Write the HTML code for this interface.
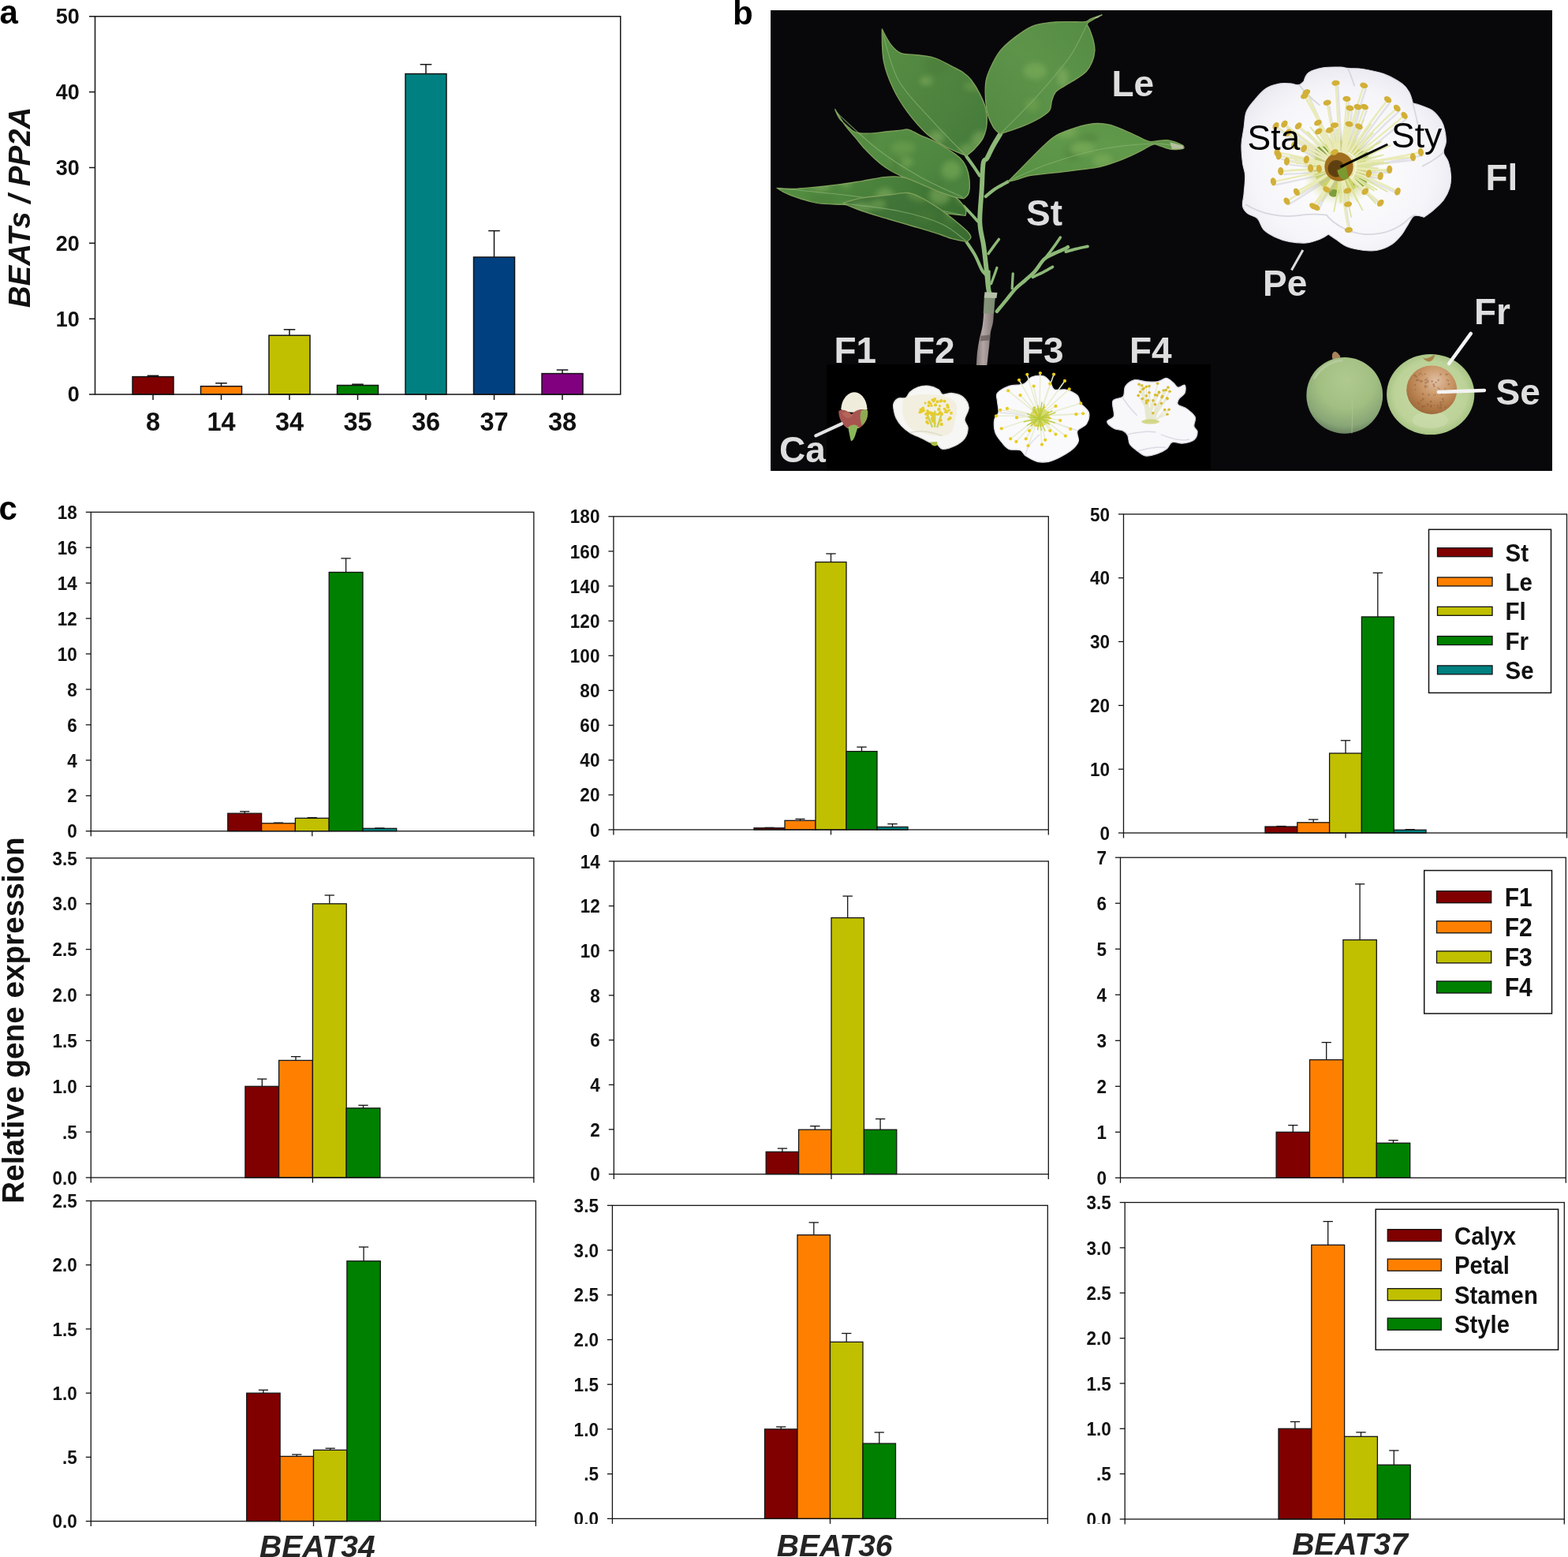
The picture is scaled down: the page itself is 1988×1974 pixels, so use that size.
<!DOCTYPE html><html><head><meta charset="utf-8"><title>Figure</title><style>html,body{margin:0;padding:0;background:#fff}svg{display:block}</style></head><body><svg width="1988" height="1974" viewBox="0 0 1988 1974"><rect width="1988" height="1974" fill="#fff"/><text x="-0.5" y="30" font-family="'Liberation Sans', Arial, Helvetica, sans-serif" font-weight="bold" font-size="42">a</text>
<g stroke="#141414" stroke-width="1.5"><line x1="194.0" y1="477.6" x2="194.0" y2="476.3"/><line x1="186.7" y1="476.3" x2="201.3" y2="476.3"/><rect x="168.0" y="477.6" width="52" height="22.4" fill="#800000"/><line x1="194.0" y1="500.0" x2="194.0" y2="507.0"/><line x1="280.5" y1="489.7" x2="280.5" y2="485.8"/><line x1="273.2" y1="485.8" x2="287.8" y2="485.8"/><rect x="254.5" y="489.7" width="52" height="10.3" fill="#ff8000"/><line x1="280.5" y1="500.0" x2="280.5" y2="507.0"/><line x1="367.0" y1="425.2" x2="367.0" y2="417.8"/><line x1="359.7" y1="417.8" x2="374.3" y2="417.8"/><rect x="341.0" y="425.2" width="52" height="74.8" fill="#c0c000"/><line x1="367.0" y1="500.0" x2="367.0" y2="507.0"/><line x1="453.5" y1="488.5" x2="453.5" y2="487.2"/><line x1="446.2" y1="487.2" x2="460.8" y2="487.2"/><rect x="427.5" y="488.5" width="52" height="11.5" fill="#008000"/><line x1="453.5" y1="500.0" x2="453.5" y2="507.0"/><line x1="540.0" y1="93.6" x2="540.0" y2="81.7"/><line x1="532.7" y1="81.7" x2="547.3" y2="81.7"/><rect x="514.0" y="93.6" width="52" height="406.4" fill="#008080"/><line x1="540.0" y1="500.0" x2="540.0" y2="507.0"/><line x1="626.5" y1="326.0" x2="626.5" y2="292.6"/><line x1="619.2" y1="292.6" x2="633.8" y2="292.6"/><rect x="600.5" y="326.0" width="52" height="174.0" fill="#004080"/><line x1="626.5" y1="500.0" x2="626.5" y2="507.0"/><line x1="713.0" y1="473.6" x2="713.0" y2="469.0"/><line x1="705.7" y1="469.0" x2="720.3" y2="469.0"/><rect x="687.0" y="473.6" width="52" height="26.4" fill="#800080"/><line x1="713.0" y1="500.0" x2="713.0" y2="507.0"/><rect x="120.5" y="20.8" width="666.2" height="479.2" fill="none"/><line x1="113.0" y1="500.0" x2="120.5" y2="500.0"/><line x1="113.0" y1="404.2" x2="120.5" y2="404.2"/><line x1="113.0" y1="308.3" x2="120.5" y2="308.3"/><line x1="113.0" y1="212.5" x2="120.5" y2="212.5"/><line x1="113.0" y1="116.6" x2="120.5" y2="116.6"/><line x1="113.0" y1="20.8" x2="120.5" y2="20.8"/></g>
<g font-family="'Liberation Sans', Arial, Helvetica, sans-serif" font-weight="bold" font-size="27" text-anchor="end" fill="#111"><text transform="translate(100.8 509.4) scale(1 1.05)">0</text><text transform="translate(100.8 413.6) scale(1 1.05)">10</text><text transform="translate(100.8 317.7) scale(1 1.05)">20</text><text transform="translate(100.8 221.9) scale(1 1.05)">30</text><text transform="translate(100.8 126.0) scale(1 1.05)">40</text><text transform="translate(100.8 30.2) scale(1 1.05)">50</text></g>
<g font-family="'Liberation Sans', Arial, Helvetica, sans-serif" font-weight="bold" font-size="32.5" text-anchor="middle" fill="#111"><text x="194.0" y="545.5">8</text><text x="280.5" y="545.5">14</text><text x="367.0" y="545.5">34</text><text x="453.5" y="545.5">35</text><text x="540.0" y="545.5">36</text><text x="626.5" y="545.5">37</text><text x="713.0" y="545.5">38</text></g>
<text transform="translate(38.2,263) rotate(-90)" text-anchor="middle" font-family="'Liberation Sans', Arial, Helvetica, sans-serif" font-weight="bold" font-style="italic" font-size="38.5" fill="#111">BEATs / PP2A</text>
<text x="-1.5" y="658.7" font-family="'Liberation Sans', Arial, Helvetica, sans-serif" font-weight="bold" font-size="42">c</text>
<g stroke="#141414" stroke-width="1.3"><line x1="310.2" y1="1031.2" x2="310.2" y2="1028.8"/><line x1="304.1" y1="1028.8" x2="316.3" y2="1028.8"/><rect x="288.8" y="1031.2" width="42.8" height="22.5" fill="#800000"/><line x1="353.0" y1="1043.8" x2="353.0" y2="1043.1"/><line x1="346.9" y1="1043.1" x2="359.1" y2="1043.1"/><rect x="331.6" y="1043.8" width="42.8" height="9.9" fill="#ff8000"/><line x1="395.8" y1="1037.3" x2="395.8" y2="1036.6"/><line x1="389.6" y1="1036.6" x2="401.9" y2="1036.6"/><rect x="374.4" y="1037.3" width="42.8" height="16.4" fill="#c0c000"/><line x1="438.6" y1="725.5" x2="438.6" y2="707.9"/><line x1="432.4" y1="707.9" x2="444.7" y2="707.9"/><rect x="417.2" y="725.5" width="42.8" height="328.2" fill="#008000"/><line x1="481.4" y1="1050.3" x2="481.4" y2="1049.9"/><line x1="475.2" y1="1049.9" x2="487.5" y2="1049.9"/><rect x="460.0" y="1050.3" width="42.8" height="3.4" fill="#008080"/><rect x="115.3" y="649.3" width="561.5" height="404.4" fill="none"/><line x1="108.8" y1="1053.7" x2="115.3" y2="1053.7"/><line x1="108.8" y1="1008.8" x2="115.3" y2="1008.8"/><line x1="108.8" y1="963.8" x2="115.3" y2="963.8"/><line x1="108.8" y1="918.9" x2="115.3" y2="918.9"/><line x1="108.8" y1="874.0" x2="115.3" y2="874.0"/><line x1="108.8" y1="829.0" x2="115.3" y2="829.0"/><line x1="108.8" y1="784.1" x2="115.3" y2="784.1"/><line x1="108.8" y1="739.2" x2="115.3" y2="739.2"/><line x1="108.8" y1="694.2" x2="115.3" y2="694.2"/><line x1="108.8" y1="649.3" x2="115.3" y2="649.3"/><line x1="115.3" y1="1053.7" x2="115.3" y2="1060.2"/><line x1="395.8" y1="1053.7" x2="395.8" y2="1060.2"/><line x1="676.8" y1="1053.7" x2="676.8" y2="1060.2"/></g>
<g font-family="'Liberation Sans', Arial, Helvetica, sans-serif" font-weight="bold" font-size="22.5" text-anchor="end" fill="#111"><text transform="translate(97.8 1062.3) scale(1 1.07)">0</text><text transform="translate(97.8 1017.4) scale(1 1.07)">2</text><text transform="translate(97.8 972.5) scale(1 1.07)">4</text><text transform="translate(97.8 927.5) scale(1 1.07)">6</text><text transform="translate(97.8 882.6) scale(1 1.07)">8</text><text transform="translate(97.8 837.7) scale(1 1.07)">10</text><text transform="translate(97.8 792.7) scale(1 1.07)">12</text><text transform="translate(97.8 747.8) scale(1 1.07)">14</text><text transform="translate(97.8 702.9) scale(1 1.07)">16</text><text transform="translate(97.8 657.9) scale(1 1.07)">18</text></g>
<g stroke="#141414" stroke-width="1.3"><line x1="975.5" y1="1049.7" x2="975.5" y2="1049.3"/><line x1="969.4" y1="1049.3" x2="981.6" y2="1049.3"/><rect x="956.0" y="1049.7" width="39.0" height="2.2" fill="#800000"/><line x1="1014.5" y1="1040.3" x2="1014.5" y2="1038.4"/><line x1="1008.4" y1="1038.4" x2="1020.6" y2="1038.4"/><rect x="995.0" y="1040.3" width="39.0" height="11.6" fill="#ff8000"/><line x1="1053.5" y1="712.6" x2="1053.5" y2="702.0"/><line x1="1047.3" y1="702.0" x2="1059.7" y2="702.0"/><rect x="1034.0" y="712.6" width="39.0" height="339.3" fill="#c0c000"/><line x1="1092.5" y1="952.6" x2="1092.5" y2="947.1"/><line x1="1086.3" y1="947.1" x2="1098.7" y2="947.1"/><rect x="1073.0" y="952.6" width="39.0" height="99.3" fill="#008000"/><line x1="1131.5" y1="1048.4" x2="1131.5" y2="1044.6"/><line x1="1125.3" y1="1044.6" x2="1137.7" y2="1044.6"/><rect x="1112.0" y="1048.4" width="39.0" height="3.5" fill="#008080"/><rect x="777.9" y="654.8" width="551.4" height="397.1" fill="none"/><line x1="771.4" y1="1051.9" x2="777.9" y2="1051.9"/><line x1="771.4" y1="1007.8" x2="777.9" y2="1007.8"/><line x1="771.4" y1="963.7" x2="777.9" y2="963.7"/><line x1="771.4" y1="919.5" x2="777.9" y2="919.5"/><line x1="771.4" y1="875.4" x2="777.9" y2="875.4"/><line x1="771.4" y1="831.3" x2="777.9" y2="831.3"/><line x1="771.4" y1="787.2" x2="777.9" y2="787.2"/><line x1="771.4" y1="743.0" x2="777.9" y2="743.0"/><line x1="771.4" y1="698.9" x2="777.9" y2="698.9"/><line x1="771.4" y1="654.8" x2="777.9" y2="654.8"/><line x1="777.9" y1="1051.9" x2="777.9" y2="1058.4"/><line x1="1053.5" y1="1051.9" x2="1053.5" y2="1058.4"/><line x1="1329.3" y1="1051.9" x2="1329.3" y2="1058.4"/></g>
<g font-family="'Liberation Sans', Arial, Helvetica, sans-serif" font-weight="bold" font-size="22.5" text-anchor="end" fill="#111"><text transform="translate(760.4 1060.5) scale(1 1.07)">0</text><text transform="translate(760.4 1016.4) scale(1 1.07)">20</text><text transform="translate(760.4 972.3) scale(1 1.07)">40</text><text transform="translate(760.4 928.2) scale(1 1.07)">60</text><text transform="translate(760.4 884.0) scale(1 1.07)">80</text><text transform="translate(760.4 839.9) scale(1 1.07)">100</text><text transform="translate(760.4 795.8) scale(1 1.07)">120</text><text transform="translate(760.4 751.7) scale(1 1.07)">140</text><text transform="translate(760.4 707.5) scale(1 1.07)">160</text><text transform="translate(760.4 663.4) scale(1 1.07)">180</text></g>
<g stroke="#141414" stroke-width="1.3"><line x1="1624.4" y1="1048.0" x2="1624.4" y2="1047.5"/><line x1="1618.2" y1="1047.5" x2="1630.6" y2="1047.5"/><rect x="1604.0" y="1048.0" width="40.8" height="8.0" fill="#800000"/><line x1="1665.2" y1="1042.8" x2="1665.2" y2="1039.0"/><line x1="1659.0" y1="1039.0" x2="1671.4" y2="1039.0"/><rect x="1644.8" y="1042.8" width="40.8" height="13.2" fill="#ff8000"/><line x1="1706.0" y1="955.0" x2="1706.0" y2="938.8"/><line x1="1699.8" y1="938.8" x2="1712.2" y2="938.8"/><rect x="1685.6" y="955.0" width="40.8" height="101.0" fill="#c0c000"/><line x1="1746.8" y1="782.0" x2="1746.8" y2="726.3"/><line x1="1740.7" y1="726.3" x2="1753.0" y2="726.3"/><rect x="1726.4" y="782.0" width="40.8" height="274.0" fill="#008000"/><line x1="1787.6" y1="1052.2" x2="1787.6" y2="1051.6"/><line x1="1781.5" y1="1051.6" x2="1793.8" y2="1051.6"/><rect x="1767.2" y="1052.2" width="40.8" height="3.8" fill="#008080"/><rect x="1424.5" y="651.9" width="562.0" height="404.1" fill="none"/><line x1="1418.0" y1="1056.0" x2="1424.5" y2="1056.0"/><line x1="1418.0" y1="975.2" x2="1424.5" y2="975.2"/><line x1="1418.0" y1="894.4" x2="1424.5" y2="894.4"/><line x1="1418.0" y1="813.5" x2="1424.5" y2="813.5"/><line x1="1418.0" y1="732.7" x2="1424.5" y2="732.7"/><line x1="1418.0" y1="651.9" x2="1424.5" y2="651.9"/><line x1="1424.5" y1="1056.0" x2="1424.5" y2="1062.5"/><line x1="1706.0" y1="1056.0" x2="1706.0" y2="1062.5"/><line x1="1986.5" y1="1056.0" x2="1986.5" y2="1062.5"/></g>
<g font-family="'Liberation Sans', Arial, Helvetica, sans-serif" font-weight="bold" font-size="22.5" text-anchor="end" fill="#111"><text transform="translate(1407.0 1064.6) scale(1 1.07)">0</text><text transform="translate(1407.0 983.8) scale(1 1.07)">10</text><text transform="translate(1407.0 903.0) scale(1 1.07)">20</text><text transform="translate(1407.0 822.2) scale(1 1.07)">30</text><text transform="translate(1407.0 741.3) scale(1 1.07)">40</text><text transform="translate(1407.0 660.5) scale(1 1.07)">50</text></g>
<g stroke="#141414" stroke-width="1.3"><line x1="332.3" y1="1377.3" x2="332.3" y2="1368.0"/><line x1="326.1" y1="1368.0" x2="338.4" y2="1368.0"/><rect x="310.9" y="1377.3" width="42.8" height="115.7" fill="#800000"/><line x1="375.0" y1="1344.4" x2="375.0" y2="1339.6"/><line x1="368.9" y1="1339.6" x2="381.2" y2="1339.6"/><rect x="353.6" y="1344.4" width="42.8" height="148.6" fill="#ff8000"/><line x1="417.8" y1="1145.8" x2="417.8" y2="1135.0"/><line x1="411.6" y1="1135.0" x2="423.9" y2="1135.0"/><rect x="396.4" y="1145.8" width="42.8" height="347.2" fill="#c0c000"/><line x1="460.5" y1="1404.9" x2="460.5" y2="1401.3"/><line x1="454.4" y1="1401.3" x2="466.7" y2="1401.3"/><rect x="439.1" y="1404.9" width="42.8" height="88.1" fill="#008000"/><rect x="115.3" y="1087.9" width="561.5" height="405.1" fill="none"/><line x1="108.8" y1="1493.0" x2="115.3" y2="1493.0"/><line x1="108.8" y1="1435.1" x2="115.3" y2="1435.1"/><line x1="108.8" y1="1377.3" x2="115.3" y2="1377.3"/><line x1="108.8" y1="1319.4" x2="115.3" y2="1319.4"/><line x1="108.8" y1="1261.5" x2="115.3" y2="1261.5"/><line x1="108.8" y1="1203.6" x2="115.3" y2="1203.6"/><line x1="108.8" y1="1145.8" x2="115.3" y2="1145.8"/><line x1="108.8" y1="1087.9" x2="115.3" y2="1087.9"/><line x1="115.3" y1="1493.0" x2="115.3" y2="1499.5"/><line x1="396.4" y1="1493.0" x2="396.4" y2="1499.5"/><line x1="676.8" y1="1493.0" x2="676.8" y2="1499.5"/></g>
<g font-family="'Liberation Sans', Arial, Helvetica, sans-serif" font-weight="bold" font-size="22.5" text-anchor="end" fill="#111"><text transform="translate(97.8 1501.6) scale(1 1.07)">0.0</text><text transform="translate(97.8 1443.7) scale(1 1.07)">.5</text><text transform="translate(97.8 1385.9) scale(1 1.07)">1.0</text><text transform="translate(97.8 1328.0) scale(1 1.07)">1.5</text><text transform="translate(97.8 1270.1) scale(1 1.07)">2.0</text><text transform="translate(97.8 1212.3) scale(1 1.07)">2.5</text><text transform="translate(97.8 1154.4) scale(1 1.07)">3.0</text><text transform="translate(97.8 1096.5) scale(1 1.07)">3.5</text></g>
<g stroke="#141414" stroke-width="1.3"><line x1="991.9" y1="1460.3" x2="991.9" y2="1456.0"/><line x1="985.8" y1="1456.0" x2="998.1" y2="1456.0"/><rect x="971.2" y="1460.3" width="41.4" height="28.3" fill="#800000"/><line x1="1033.3" y1="1432.2" x2="1033.3" y2="1427.7"/><line x1="1027.1" y1="1427.7" x2="1039.5" y2="1427.7"/><rect x="1012.6" y="1432.2" width="41.4" height="56.4" fill="#ff8000"/><line x1="1074.7" y1="1163.6" x2="1074.7" y2="1136.1"/><line x1="1068.5" y1="1136.1" x2="1080.9" y2="1136.1"/><rect x="1054.0" y="1163.6" width="41.4" height="325.0" fill="#c0c000"/><line x1="1116.1" y1="1432.2" x2="1116.1" y2="1418.6"/><line x1="1110.0" y1="1418.6" x2="1122.3" y2="1418.6"/><rect x="1095.4" y="1432.2" width="41.4" height="56.4" fill="#008000"/><rect x="778.3" y="1091.9" width="551.0" height="396.7" fill="none"/><line x1="771.8" y1="1488.6" x2="778.3" y2="1488.6"/><line x1="771.8" y1="1431.9" x2="778.3" y2="1431.9"/><line x1="771.8" y1="1375.3" x2="778.3" y2="1375.3"/><line x1="771.8" y1="1318.6" x2="778.3" y2="1318.6"/><line x1="771.8" y1="1261.9" x2="778.3" y2="1261.9"/><line x1="771.8" y1="1205.2" x2="778.3" y2="1205.2"/><line x1="771.8" y1="1148.6" x2="778.3" y2="1148.6"/><line x1="771.8" y1="1091.9" x2="778.3" y2="1091.9"/><line x1="778.3" y1="1488.6" x2="778.3" y2="1495.1"/><line x1="1054.0" y1="1488.6" x2="1054.0" y2="1495.1"/><line x1="1329.3" y1="1488.6" x2="1329.3" y2="1495.1"/></g>
<g font-family="'Liberation Sans', Arial, Helvetica, sans-serif" font-weight="bold" font-size="22.5" text-anchor="end" fill="#111"><text transform="translate(760.8 1497.2) scale(1 1.07)">0</text><text transform="translate(760.8 1440.5) scale(1 1.07)">2</text><text transform="translate(760.8 1383.9) scale(1 1.07)">4</text><text transform="translate(760.8 1327.2) scale(1 1.07)">6</text><text transform="translate(760.8 1270.5) scale(1 1.07)">8</text><text transform="translate(760.8 1213.9) scale(1 1.07)">10</text><text transform="translate(760.8 1157.2) scale(1 1.07)">12</text><text transform="translate(760.8 1100.5) scale(1 1.07)">14</text></g>
<g stroke="#141414" stroke-width="1.3"><line x1="1639.3" y1="1435.3" x2="1639.3" y2="1426.6"/><line x1="1633.2" y1="1426.6" x2="1645.5" y2="1426.6"/><rect x="1618.1" y="1435.3" width="42.4" height="58.0" fill="#800000"/><line x1="1681.7" y1="1343.6" x2="1681.7" y2="1321.6"/><line x1="1675.6" y1="1321.6" x2="1687.9" y2="1321.6"/><rect x="1660.5" y="1343.6" width="42.4" height="149.7" fill="#ff8000"/><line x1="1724.1" y1="1191.6" x2="1724.1" y2="1120.8"/><line x1="1718.0" y1="1120.8" x2="1730.3" y2="1120.8"/><rect x="1702.9" y="1191.6" width="42.4" height="301.7" fill="#c0c000"/><line x1="1766.5" y1="1449.2" x2="1766.5" y2="1445.7"/><line x1="1760.4" y1="1445.7" x2="1772.7" y2="1445.7"/><rect x="1745.3" y="1449.2" width="42.4" height="44.1" fill="#008000"/><rect x="1420.5" y="1087.2" width="564.8" height="406.1" fill="none"/><line x1="1414.0" y1="1493.3" x2="1420.5" y2="1493.3"/><line x1="1414.0" y1="1435.3" x2="1420.5" y2="1435.3"/><line x1="1414.0" y1="1377.3" x2="1420.5" y2="1377.3"/><line x1="1414.0" y1="1319.3" x2="1420.5" y2="1319.3"/><line x1="1414.0" y1="1261.2" x2="1420.5" y2="1261.2"/><line x1="1414.0" y1="1203.2" x2="1420.5" y2="1203.2"/><line x1="1414.0" y1="1145.2" x2="1420.5" y2="1145.2"/><line x1="1414.0" y1="1087.2" x2="1420.5" y2="1087.2"/><line x1="1420.5" y1="1493.3" x2="1420.5" y2="1499.8"/><line x1="1702.9" y1="1493.3" x2="1702.9" y2="1499.8"/><line x1="1985.3" y1="1493.3" x2="1985.3" y2="1499.8"/></g>
<g font-family="'Liberation Sans', Arial, Helvetica, sans-serif" font-weight="bold" font-size="22.5" text-anchor="end" fill="#111"><text transform="translate(1403.0 1501.9) scale(1 1.07)">0</text><text transform="translate(1403.0 1443.9) scale(1 1.07)">1</text><text transform="translate(1403.0 1385.9) scale(1 1.07)">2</text><text transform="translate(1403.0 1327.9) scale(1 1.07)">3</text><text transform="translate(1403.0 1269.9) scale(1 1.07)">4</text><text transform="translate(1403.0 1211.8) scale(1 1.07)">5</text><text transform="translate(1403.0 1153.8) scale(1 1.07)">6</text><text transform="translate(1403.0 1095.8) scale(1 1.07)">7</text></g>
<g stroke="#141414" stroke-width="1.3"><line x1="333.9" y1="1766.2" x2="333.9" y2="1762.3"/><line x1="327.8" y1="1762.3" x2="340.0" y2="1762.3"/><rect x="312.7" y="1766.2" width="42.4" height="162.4" fill="#800000"/><line x1="376.3" y1="1846.4" x2="376.3" y2="1844.1"/><line x1="370.1" y1="1844.1" x2="382.4" y2="1844.1"/><rect x="355.1" y="1846.4" width="42.4" height="82.2" fill="#ff8000"/><line x1="418.7" y1="1838.4" x2="418.7" y2="1836.2"/><line x1="412.6" y1="1836.2" x2="424.8" y2="1836.2"/><rect x="397.5" y="1838.4" width="42.4" height="90.2" fill="#c0c000"/><line x1="461.1" y1="1598.8" x2="461.1" y2="1581.0"/><line x1="454.9" y1="1581.0" x2="467.2" y2="1581.0"/><rect x="439.9" y="1598.8" width="42.4" height="329.8" fill="#008000"/><rect x="115.3" y="1522.5" width="564.0" height="406.1" fill="none"/><line x1="108.8" y1="1928.6" x2="115.3" y2="1928.6"/><line x1="108.8" y1="1847.4" x2="115.3" y2="1847.4"/><line x1="108.8" y1="1766.2" x2="115.3" y2="1766.2"/><line x1="108.8" y1="1684.9" x2="115.3" y2="1684.9"/><line x1="108.8" y1="1603.7" x2="115.3" y2="1603.7"/><line x1="108.8" y1="1522.5" x2="115.3" y2="1522.5"/><line x1="115.3" y1="1928.6" x2="115.3" y2="1935.1"/><line x1="397.5" y1="1928.6" x2="397.5" y2="1935.1"/><line x1="679.3" y1="1928.6" x2="679.3" y2="1935.1"/></g>
<g font-family="'Liberation Sans', Arial, Helvetica, sans-serif" font-weight="bold" font-size="22.5" text-anchor="end" fill="#111"><text transform="translate(97.8 1937.2) scale(1 1.07)">0.0</text><text transform="translate(97.8 1856.0) scale(1 1.07)">.5</text><text transform="translate(97.8 1774.8) scale(1 1.07)">1.0</text><text transform="translate(97.8 1693.6) scale(1 1.07)">1.5</text><text transform="translate(97.8 1612.3) scale(1 1.07)">2.0</text><text transform="translate(97.8 1531.1) scale(1 1.07)">2.5</text></g>
<g stroke="#141414" stroke-width="1.3"><line x1="990.2" y1="1811.9" x2="990.2" y2="1809.0"/><line x1="984.1" y1="1809.0" x2="996.4" y2="1809.0"/><rect x="969.5" y="1811.9" width="41.5" height="113.5" fill="#800000"/><line x1="1031.8" y1="1565.7" x2="1031.8" y2="1549.9"/><line x1="1025.6" y1="1549.9" x2="1037.9" y2="1549.9"/><rect x="1011.0" y="1565.7" width="41.5" height="359.7" fill="#ff8000"/><line x1="1073.2" y1="1701.4" x2="1073.2" y2="1690.5"/><line x1="1067.1" y1="1690.5" x2="1079.4" y2="1690.5"/><rect x="1052.5" y="1701.4" width="41.5" height="224.0" fill="#c0c000"/><line x1="1114.8" y1="1830.1" x2="1114.8" y2="1816.0"/><line x1="1108.6" y1="1816.0" x2="1120.9" y2="1816.0"/><rect x="1094.0" y="1830.1" width="41.5" height="95.3" fill="#008000"/><rect x="776.4" y="1528.3" width="551.9" height="397.1" fill="none"/><line x1="769.9" y1="1925.4" x2="776.4" y2="1925.4"/><line x1="769.9" y1="1868.7" x2="776.4" y2="1868.7"/><line x1="769.9" y1="1811.9" x2="776.4" y2="1811.9"/><line x1="769.9" y1="1755.2" x2="776.4" y2="1755.2"/><line x1="769.9" y1="1698.5" x2="776.4" y2="1698.5"/><line x1="769.9" y1="1641.8" x2="776.4" y2="1641.8"/><line x1="769.9" y1="1585.0" x2="776.4" y2="1585.0"/><line x1="769.9" y1="1528.3" x2="776.4" y2="1528.3"/><line x1="776.4" y1="1925.4" x2="776.4" y2="1931.9"/><line x1="1052.5" y1="1925.4" x2="1052.5" y2="1931.9"/><line x1="1328.3" y1="1925.4" x2="1328.3" y2="1931.9"/></g>
<g font-family="'Liberation Sans', Arial, Helvetica, sans-serif" font-weight="bold" font-size="22.5" text-anchor="end" fill="#111"><text transform="translate(758.9 1934.0) scale(1 1.07)">0.0</text><text transform="translate(758.9 1877.3) scale(1 1.07)">.5</text><text transform="translate(758.9 1820.6) scale(1 1.07)">1.0</text><text transform="translate(758.9 1763.8) scale(1 1.07)">1.5</text><text transform="translate(758.9 1707.1) scale(1 1.07)">2.0</text><text transform="translate(758.9 1650.4) scale(1 1.07)">2.5</text><text transform="translate(758.9 1593.6) scale(1 1.07)">3.0</text><text transform="translate(758.9 1536.9) scale(1 1.07)">3.5</text></g>
<g stroke="#141414" stroke-width="1.3"><line x1="1641.9" y1="1811.3" x2="1641.9" y2="1802.5"/><line x1="1635.8" y1="1802.5" x2="1648.1" y2="1802.5"/><rect x="1621.0" y="1811.3" width="41.8" height="114.7" fill="#800000"/><line x1="1683.7" y1="1578.4" x2="1683.7" y2="1548.6"/><line x1="1677.5" y1="1548.6" x2="1689.9" y2="1548.6"/><rect x="1662.8" y="1578.4" width="41.8" height="347.6" fill="#ff8000"/><line x1="1725.5" y1="1821.3" x2="1725.5" y2="1815.9"/><line x1="1719.3" y1="1815.9" x2="1731.7" y2="1815.9"/><rect x="1704.6" y="1821.3" width="41.8" height="104.7" fill="#c0c000"/><line x1="1767.3" y1="1857.2" x2="1767.3" y2="1839.0"/><line x1="1761.2" y1="1839.0" x2="1773.5" y2="1839.0"/><rect x="1746.4" y="1857.2" width="41.8" height="68.8" fill="#008000"/><rect x="1426.2" y="1524.5" width="557.1" height="401.5" fill="none"/><line x1="1419.7" y1="1926.0" x2="1426.2" y2="1926.0"/><line x1="1419.7" y1="1868.6" x2="1426.2" y2="1868.6"/><line x1="1419.7" y1="1811.3" x2="1426.2" y2="1811.3"/><line x1="1419.7" y1="1753.9" x2="1426.2" y2="1753.9"/><line x1="1419.7" y1="1696.6" x2="1426.2" y2="1696.6"/><line x1="1419.7" y1="1639.2" x2="1426.2" y2="1639.2"/><line x1="1419.7" y1="1581.9" x2="1426.2" y2="1581.9"/><line x1="1419.7" y1="1524.5" x2="1426.2" y2="1524.5"/><line x1="1426.2" y1="1926.0" x2="1426.2" y2="1932.5"/><line x1="1704.6" y1="1926.0" x2="1704.6" y2="1932.5"/><line x1="1983.3" y1="1926.0" x2="1983.3" y2="1932.5"/></g>
<g font-family="'Liberation Sans', Arial, Helvetica, sans-serif" font-weight="bold" font-size="22.5" text-anchor="end" fill="#111"><text transform="translate(1408.7 1934.6) scale(1 1.07)">0.0</text><text transform="translate(1408.7 1877.3) scale(1 1.07)">.5</text><text transform="translate(1408.7 1819.9) scale(1 1.07)">1.0</text><text transform="translate(1408.7 1762.5) scale(1 1.07)">1.5</text><text transform="translate(1408.7 1705.2) scale(1 1.07)">2.0</text><text transform="translate(1408.7 1647.8) scale(1 1.07)">2.5</text><text transform="translate(1408.7 1590.5) scale(1 1.07)">3.0</text><text transform="translate(1408.7 1533.1) scale(1 1.07)">3.5</text></g>
<rect x="1811.5" y="671.3" width="155.0" height="207.1" fill="#fff" stroke="#111" stroke-width="1.5"/><rect x="1822.5" y="694.7" width="69.5" height="11" fill="#800000" stroke="#111" stroke-width="1.3"/><text transform="translate(1908.5 711.7) scale(1 1.09)" font-family="'Liberation Sans', Arial, Helvetica, sans-serif" font-weight="bold" font-size="29.5" fill="#111">St</text><rect x="1822.5" y="732.0" width="69.5" height="11" fill="#ff8000" stroke="#111" stroke-width="1.3"/><text transform="translate(1908.5 749.0) scale(1 1.09)" font-family="'Liberation Sans', Arial, Helvetica, sans-serif" font-weight="bold" font-size="29.5" fill="#111">Le</text><rect x="1822.5" y="769.3" width="69.5" height="11" fill="#c0c000" stroke="#111" stroke-width="1.3"/><text transform="translate(1908.5 786.3) scale(1 1.09)" font-family="'Liberation Sans', Arial, Helvetica, sans-serif" font-weight="bold" font-size="29.5" fill="#111">Fl</text><rect x="1822.5" y="806.6" width="69.5" height="11" fill="#008000" stroke="#111" stroke-width="1.3"/><text transform="translate(1908.5 823.6) scale(1 1.09)" font-family="'Liberation Sans', Arial, Helvetica, sans-serif" font-weight="bold" font-size="29.5" fill="#111">Fr</text><rect x="1822.5" y="843.9" width="69.5" height="11" fill="#008080" stroke="#111" stroke-width="1.3"/><text transform="translate(1908.5 860.9) scale(1 1.09)" font-family="'Liberation Sans', Arial, Helvetica, sans-serif" font-weight="bold" font-size="29.5" fill="#111">Se</text>
<rect x="1805.7" y="1103.6" width="161.8" height="181.4" fill="#fff" stroke="#111" stroke-width="1.5"/><rect x="1821.5" y="1129.7" width="69.2" height="15" fill="#800000" stroke="#111" stroke-width="1.3"/><text transform="translate(1907.8 1148.9) scale(1 1.09)" font-family="'Liberation Sans', Arial, Helvetica, sans-serif" font-weight="bold" font-size="30" fill="#111">F1</text><rect x="1821.5" y="1167.8" width="69.2" height="15" fill="#ff8000" stroke="#111" stroke-width="1.3"/><text transform="translate(1907.8 1187.0) scale(1 1.09)" font-family="'Liberation Sans', Arial, Helvetica, sans-serif" font-weight="bold" font-size="30" fill="#111">F2</text><rect x="1821.5" y="1205.9" width="69.2" height="15" fill="#c0c000" stroke="#111" stroke-width="1.3"/><text transform="translate(1907.8 1225.1) scale(1 1.09)" font-family="'Liberation Sans', Arial, Helvetica, sans-serif" font-weight="bold" font-size="30" fill="#111">F3</text><rect x="1821.5" y="1244.0" width="69.2" height="15" fill="#008000" stroke="#111" stroke-width="1.3"/><text transform="translate(1907.8 1263.2) scale(1 1.09)" font-family="'Liberation Sans', Arial, Helvetica, sans-serif" font-weight="bold" font-size="30" fill="#111">F4</text>
<rect x="1744.2" y="1533.2" width="231.4" height="178.1" fill="#fff" stroke="#111" stroke-width="1.5"/><rect x="1759.3" y="1558.7" width="68.0" height="15" fill="#800000" stroke="#111" stroke-width="1.3"/><text transform="translate(1844 1577.6) scale(1 1.09)" font-family="'Liberation Sans', Arial, Helvetica, sans-serif" font-weight="bold" font-size="29.3" fill="#111">Calyx</text><rect x="1759.3" y="1596.2" width="68.0" height="15" fill="#ff8000" stroke="#111" stroke-width="1.3"/><text transform="translate(1844 1615.1) scale(1 1.09)" font-family="'Liberation Sans', Arial, Helvetica, sans-serif" font-weight="bold" font-size="29.3" fill="#111">Petal</text><rect x="1759.3" y="1633.7" width="68.0" height="15" fill="#c0c000" stroke="#111" stroke-width="1.3"/><text transform="translate(1844 1652.6) scale(1 1.09)" font-family="'Liberation Sans', Arial, Helvetica, sans-serif" font-weight="bold" font-size="29.3" fill="#111">Stamen</text><rect x="1759.3" y="1671.2" width="68.0" height="15" fill="#008000" stroke="#111" stroke-width="1.3"/><text transform="translate(1844 1690.1) scale(1 1.09)" font-family="'Liberation Sans', Arial, Helvetica, sans-serif" font-weight="bold" font-size="29.3" fill="#111">Style</text>
<text x="402.3" y="1973.6" text-anchor="middle" font-family="'Liberation Sans', Arial, Helvetica, sans-serif" font-weight="bold" font-style="italic" font-size="39" fill="#242424">BEAT34</text>
<text x="1058.2" y="1973.1" text-anchor="middle" font-family="'Liberation Sans', Arial, Helvetica, sans-serif" font-weight="bold" font-style="italic" font-size="39" fill="#242424">BEAT36</text>
<text x="1711.5" y="1971" text-anchor="middle" font-family="'Liberation Sans', Arial, Helvetica, sans-serif" font-weight="bold" font-style="italic" font-size="39" fill="#242424">BEAT37</text>
<rect x="725" y="1932" width="40" height="8" fill="#fff"/><rect x="1375" y="1932" width="40" height="8" fill="#fff"/>
<text transform="translate(29.5,1293.5) rotate(-90)" text-anchor="middle" font-family="'Liberation Sans', Arial, Helvetica, sans-serif" font-weight="bold" font-size="38.7" fill="#111">Relative gene expression</text>
<text x="929" y="30.5" font-family="'Liberation Sans', Arial, Helvetica, sans-serif" font-weight="bold" font-size="42">b</text>
<rect x="977" y="13" width="991" height="584" fill="#08080a"/>
<rect x="1048" y="462" width="487" height="135" fill="#000"/>
<defs>
<linearGradient id="gLeafA" x1="0" y1="0" x2="1" y2="1"><stop offset="0" stop-color="#578f44"/><stop offset="0.5" stop-color="#4f843f"/><stop offset="1" stop-color="#447a3b"/></linearGradient>
<linearGradient id="gLeafB" x1="0" y1="1" x2="1" y2="0"><stop offset="0" stop-color="#538942"/><stop offset="0.5" stop-color="#5d944a"/><stop offset="1" stop-color="#538b42"/></linearGradient>
<linearGradient id="gLeafC" x1="0" y1="1" x2="1" y2="0"><stop offset="0" stop-color="#558f42"/><stop offset="0.6" stop-color="#629a4c"/><stop offset="1" stop-color="#578f42"/></linearGradient>
<linearGradient id="gLeafD" x1="0" y1="0" x2="1" y2="1"><stop offset="0" stop-color="#5b9446"/><stop offset="1" stop-color="#48803d"/></linearGradient>
<linearGradient id="gLeafE" x1="0" y1="0" x2="1" y2="0"><stop offset="0" stop-color="#558f42"/><stop offset="0.6" stop-color="#48803b"/><stop offset="1" stop-color="#396d30"/></linearGradient>
<linearGradient id="gLeafF" x1="0" y1="0" x2="1" y2="1"><stop offset="0" stop-color="#44783b"/><stop offset="1" stop-color="#396b30"/></linearGradient>
<linearGradient id="gWood" x1="0" y1="0" x2="1" y2="0"><stop offset="0" stop-color="#857a7a"/><stop offset="0.35" stop-color="#b2a6a4"/><stop offset="1" stop-color="#7a706e"/></linearGradient>
<radialGradient id="gBig" cx="0.48" cy="0.55" r="0.6"><stop offset="0" stop-color="#ffffff"/><stop offset="0.7" stop-color="#f6f6fa"/><stop offset="1" stop-color="#e6e6ee"/></radialGradient>
<radialGradient id="gFruit" cx="52%" cy="30%" r="75%"><stop offset="0" stop-color="#b0ca8e"/><stop offset="0.5" stop-color="#a2bf82"/><stop offset="0.8" stop-color="#88a676"/><stop offset="1" stop-color="#5e7458"/></radialGradient>
<radialGradient id="gFlesh" cx="50%" cy="50%" r="55%"><stop offset="0" stop-color="#cadca8"/><stop offset="0.75" stop-color="#bcd298"/><stop offset="0.95" stop-color="#a4c080"/><stop offset="1" stop-color="#88a868"/></radialGradient>
<radialGradient id="gSeed" cx="58%" cy="32%" r="70%"><stop offset="0" stop-color="#e0c0a4"/><stop offset="0.4" stop-color="#cc9a6c"/><stop offset="0.8" stop-color="#b07846"/><stop offset="1" stop-color="#9c6a3c"/></radialGradient>
<radialGradient id="gCenter" cx="50%" cy="50%" r="50%"><stop offset="0" stop-color="#c0c860"/><stop offset="0.5" stop-color="#c8d070"/><stop offset="1" stop-color="#e8ecc0" stop-opacity="0"/></radialGradient>
<radialGradient id="gPetal" cx="50%" cy="50%" r="50%"><stop offset="0" stop-color="#ffffff"/><stop offset="0.8" stop-color="#f6f6fa"/><stop offset="1" stop-color="#e8e8f0"/></radialGradient>
</defs>
<g transform="translate(977 13) scale(0.27071)">
<path d="M1076.0 579.0 C1070.0 589.2 1050.5 620.8 1040.0 640.0 C1029.5 659.2 1020.3 681.2 1013.0 694.0 C1005.7 706.8 1000.0 693.0 996.0 717.0 C992.0 741.0 991.7 792.0 989.0 838.0 C986.3 884.0 978.5 948.7 980.0 993.0 C981.5 1037.3 992.8 1067.0 998.0 1104.0 C1003.2 1141.0 1007.3 1181.8 1011.0 1215.0 C1014.7 1248.2 1017.0 1282.2 1020.0 1303.0 C1023.0 1323.8 1027.5 1333.8 1029.0 1340.0" fill="none" stroke="#8db978" stroke-width="22" stroke-linecap="round" stroke-linejoin="round"/>
<path d="M979.0 774.0 C974.2 766.7 960.5 745.2 950.0 730.0 C939.5 714.8 921.7 690.8 916.0 683.0" fill="none" stroke="#8db978" stroke-width="15" stroke-linecap="round" stroke-linejoin="round"/>
<path d="M1007.0 872.0 C1012.5 867.5 1029.5 852.7 1040.0 845.0 C1050.5 837.3 1058.2 833.0 1070.0 826.0 C1081.8 819.0 1104.2 806.8 1111.0 803.0" fill="none" stroke="#8db978" stroke-width="15" stroke-linecap="round" stroke-linejoin="round"/>
<path d="M971.0 989.0 C965.8 983.3 951.0 966.8 940.0 955.0 C929.0 943.2 910.8 924.2 905.0 918.0" fill="none" stroke="#8db978" stroke-width="14" stroke-linecap="round" stroke-linejoin="round"/>
<path d="M1007.0 1237.0 C1004.0 1233.3 997.2 1229.8 989.0 1215.0 C980.8 1200.2 969.8 1169.5 958.0 1148.0 C946.2 1126.5 924.7 1096.3 918.0 1086.0" fill="none" stroke="#8db978" stroke-width="15" stroke-linecap="round" stroke-linejoin="round"/>
<path d="M1020.0 1140.0 C1024.2 1134.2 1036.8 1116.2 1045.0 1105.0 C1053.2 1093.8 1065.0 1078.3 1069.0 1073.0" fill="none" stroke="#8db978" stroke-width="13" stroke-linecap="round" stroke-linejoin="round"/>
<path d="M1033.0 1281.0 C1035.5 1274.2 1043.5 1252.5 1048.0 1240.0 C1052.5 1227.5 1058.0 1211.7 1060.0 1206.0" fill="none" stroke="#8db978" stroke-width="12" stroke-linecap="round" stroke-linejoin="round"/>
<path d="M1024.0 1303.0 C1024.0 1289.7 1024.0 1236.3 1024.0 1223.0" fill="none" stroke="#8db978" stroke-width="11" stroke-linecap="round" stroke-linejoin="round"/>
<path d="M1060.0 1410.0 C1067.3 1401.2 1089.3 1374.8 1104.0 1357.0 C1118.7 1339.2 1133.2 1318.5 1148.0 1303.0 C1162.8 1287.5 1178.2 1277.2 1193.0 1264.0 C1207.8 1250.8 1222.3 1240.3 1237.0 1224.0 C1251.7 1207.7 1266.2 1180.0 1281.0 1166.0 C1295.8 1152.0 1309.7 1148.2 1326.0 1140.0 C1342.3 1131.8 1368.0 1122.2 1379.0 1117.0 C1390.0 1111.8 1389.8 1110.3 1392.0 1109.0" fill="none" stroke="#8db978" stroke-width="17" stroke-linecap="round" stroke-linejoin="round"/>
<path d="M1383.0 1131.0 C1390.8 1128.8 1413.0 1122.2 1430.0 1118.0 C1447.0 1113.8 1475.8 1108.0 1485.0 1106.0" fill="none" stroke="#8db978" stroke-width="14" stroke-linecap="round" stroke-linejoin="round"/>
<path d="M1290.0 1157.0 C1295.8 1149.2 1313.8 1125.5 1325.0 1110.0 C1336.2 1094.5 1351.7 1071.7 1357.0 1064.0" fill="none" stroke="#8db978" stroke-width="13" stroke-linecap="round" stroke-linejoin="round"/>
<path d="M1228.0 1250.0 C1236.7 1245.8 1264.5 1233.0 1280.0 1225.0 C1295.5 1217.0 1314.2 1205.8 1321.0 1202.0" fill="none" stroke="#8db978" stroke-width="13" stroke-linecap="round" stroke-linejoin="round"/>
<path d="M1131.0 1303.0 C1131.7 1291.3 1134.3 1244.7 1135.0 1233.0" fill="none" stroke="#8db978" stroke-width="12" stroke-linecap="round" stroke-linejoin="round"/>
<path d="M1004.0 1335.0 C1004.0 1335.0 1052.0 1338.0 1052.0 1338.0 C1052.0 1338.0 1047.7 1379.7 1046.0 1400.0 C1044.3 1420.3 1044.7 1441.7 1042.0 1460.0 C1039.3 1478.3 1033.0 1491.7 1030.0 1510.0 C1027.0 1528.3 1026.7 1544.7 1024.0 1570.0 C1021.3 1595.3 1014.0 1662.0 1014.0 1662.0 C1014.0 1662.0 964.0 1662.0 964.0 1662.0 C964.0 1662.0 965.7 1620.3 968.0 1600.0 C970.3 1579.7 974.0 1560.0 978.0 1540.0 C982.0 1520.0 988.7 1500.0 992.0 1480.0 C995.3 1460.0 996.0 1444.2 998.0 1420.0 C1000.0 1395.8 1004.0 1335.0 1004.0 1335.0 Z" fill="url(#gWood)"/>
<path d="M1000 1345 L1052 1345 L1046 1420 L996 1420 Z" fill="#7e9274" opacity="0.8"/>
<path d="M1003 1320 L1062 1322 L1058 1348 L1000 1346 Z" fill="#b4c0a8"/>
<path d="M985 1525 L1030 1520 L1028 1545 L982 1550 Z" fill="#5e5656" opacity="0.7"/>
<filter id="blurM" x="-20%" y="-20%" width="140%" height="140%"><feGaussianBlur stdDeviation="14"/></filter>
<clipPath id="lc1"><path d="M30.0 833.0 C30.0 833.0 76.2 838.5 122.0 836.0 C167.8 833.5 254.2 824.0 305.0 818.0 C355.8 812.0 389.3 806.0 427.0 800.0 C464.7 794.0 502.2 785.3 531.0 782.0 C559.8 778.7 571.8 777.3 600.0 780.0 C628.2 782.7 666.7 789.0 700.0 798.0 C733.3 807.0 771.7 820.7 800.0 834.0 C828.3 847.3 851.3 862.0 870.0 878.0 C888.7 894.0 905.0 916.0 912.0 930.0 C919.0 944.0 912.0 962.0 912.0 962.0 C912.0 962.0 852.0 955.3 800.0 950.0 C748.0 944.7 663.3 936.0 600.0 930.0 C536.7 924.0 464.0 917.3 420.0 914.0 C376.0 910.7 370.3 912.0 336.0 910.0 C301.7 908.0 254.7 909.3 214.0 902.0 C173.3 894.7 122.7 877.5 92.0 866.0 C61.3 854.5 30.0 833.0 30.0 833.0 Z"/></clipPath>
<path d="M30.0 833.0 C30.0 833.0 76.2 838.5 122.0 836.0 C167.8 833.5 254.2 824.0 305.0 818.0 C355.8 812.0 389.3 806.0 427.0 800.0 C464.7 794.0 502.2 785.3 531.0 782.0 C559.8 778.7 571.8 777.3 600.0 780.0 C628.2 782.7 666.7 789.0 700.0 798.0 C733.3 807.0 771.7 820.7 800.0 834.0 C828.3 847.3 851.3 862.0 870.0 878.0 C888.7 894.0 905.0 916.0 912.0 930.0 C919.0 944.0 912.0 962.0 912.0 962.0 C912.0 962.0 852.0 955.3 800.0 950.0 C748.0 944.7 663.3 936.0 600.0 930.0 C536.7 924.0 464.0 917.3 420.0 914.0 C376.0 910.7 370.3 912.0 336.0 910.0 C301.7 908.0 254.7 909.3 214.0 902.0 C173.3 894.7 122.7 877.5 92.0 866.0 C61.3 854.5 30.0 833.0 30.0 833.0 Z" fill="url(#gLeafE)" stroke="#7ea05a" stroke-width="5" stroke-linejoin="round"/>
<g clip-path="url(#lc1)"><g filter="url(#blurM)" opacity="0.45"><ellipse cx="240" cy="879" rx="57" ry="32" fill="#4a7a38"/><ellipse cx="542" cy="890" rx="34" ry="26" fill="#94bc6a"/><ellipse cx="908" cy="866" rx="39" ry="42" fill="#94bc6a"/><ellipse cx="235" cy="808" rx="51" ry="37" fill="#94bc6a"/><ellipse cx="86" cy="918" rx="36" ry="21" fill="#8ab860"/><ellipse cx="793" cy="866" rx="50" ry="43" fill="#94bc6a"/><ellipse cx="378" cy="926" rx="59" ry="23" fill="#94bc6a"/><ellipse cx="352" cy="787" rx="33" ry="44" fill="#94bc6a"/><ellipse cx="415" cy="894" rx="40" ry="41" fill="#4a7a38"/><ellipse cx="536" cy="877" rx="45" ry="43" fill="#94bc6a"/></g></g>
<path d="M40.0 834.0 C83.3 838.3 206.7 849.0 300.0 860.0 C393.3 871.0 500.8 883.7 600.0 900.0 C699.2 916.3 845.8 948.3 895.0 958.0" fill="none" stroke="#8cb474" stroke-width="4" opacity="0.7"/>
<clipPath id="lc2"><path d="M339.0 904.0 C339.0 904.0 392.0 885.3 427.0 879.0 C462.0 872.7 513.3 870.0 549.0 866.0 C584.7 862.0 615.5 853.3 641.0 855.0 C666.5 856.7 676.5 863.2 702.0 876.0 C727.5 888.8 766.5 913.3 794.0 932.0 C821.5 950.7 845.7 970.7 867.0 988.0 C888.3 1005.3 910.2 1023.3 922.0 1036.0 C933.8 1048.7 938.7 1056.0 938.0 1064.0 C937.3 1072.0 918.0 1084.0 918.0 1084.0 C918.0 1084.0 870.7 1075.7 850.0 1070.0 C829.3 1064.3 823.7 1059.5 794.0 1050.0 C764.3 1040.5 712.8 1025.2 672.0 1013.0 C631.2 1000.8 589.8 989.2 549.0 977.0 C508.2 964.8 462.0 952.2 427.0 940.0 C392.0 927.8 339.0 904.0 339.0 904.0 Z"/></clipPath>
<path d="M339.0 904.0 C339.0 904.0 392.0 885.3 427.0 879.0 C462.0 872.7 513.3 870.0 549.0 866.0 C584.7 862.0 615.5 853.3 641.0 855.0 C666.5 856.7 676.5 863.2 702.0 876.0 C727.5 888.8 766.5 913.3 794.0 932.0 C821.5 950.7 845.7 970.7 867.0 988.0 C888.3 1005.3 910.2 1023.3 922.0 1036.0 C933.8 1048.7 938.7 1056.0 938.0 1064.0 C937.3 1072.0 918.0 1084.0 918.0 1084.0 C918.0 1084.0 870.7 1075.7 850.0 1070.0 C829.3 1064.3 823.7 1059.5 794.0 1050.0 C764.3 1040.5 712.8 1025.2 672.0 1013.0 C631.2 1000.8 589.8 989.2 549.0 977.0 C508.2 964.8 462.0 952.2 427.0 940.0 C392.0 927.8 339.0 904.0 339.0 904.0 Z" fill="url(#gLeafF)" stroke="#7ea05a" stroke-width="5" stroke-linejoin="round"/>
<g clip-path="url(#lc2)"><g filter="url(#blurM)" opacity="0.45"><ellipse cx="748" cy="1068" rx="60" ry="37" fill="#4a7a38"/><ellipse cx="437" cy="1052" rx="50" ry="25" fill="#8ab860"/><ellipse cx="837" cy="986" rx="29" ry="32" fill="#4a7a38"/><ellipse cx="722" cy="966" rx="53" ry="30" fill="#4a7a38"/><ellipse cx="429" cy="922" rx="56" ry="21" fill="#94bc6a"/><ellipse cx="707" cy="865" rx="44" ry="43" fill="#4a7a38"/><ellipse cx="506" cy="909" rx="36" ry="22" fill="#8ab860"/><ellipse cx="698" cy="862" rx="59" ry="27" fill="#7aa852"/><ellipse cx="497" cy="1013" rx="36" ry="44" fill="#4a7a38"/><ellipse cx="876" cy="942" rx="55" ry="30" fill="#94bc6a"/></g></g>
<path d="M345.0 905.0 C387.5 910.8 524.2 924.2 600.0 940.0 C675.8 955.8 747.5 976.7 800.0 1000.0 C852.5 1023.3 895.8 1066.7 915.0 1080.0" fill="none" stroke="#8cb474" stroke-width="4" opacity="0.7"/>
<clipPath id="lc3"><path d="M302.0 464.0 C302.0 464.0 312.3 492.8 323.0 507.0 C333.7 521.2 353.7 538.3 366.0 549.0 C378.3 559.7 381.7 566.3 397.0 571.0 C412.3 575.7 432.7 577.5 458.0 577.0 C483.3 576.5 523.5 570.5 549.0 568.0 C574.5 565.5 594.7 563.5 611.0 562.0 C627.3 560.5 632.2 555.2 647.0 559.0 C661.8 562.8 680.7 576.2 700.0 585.0 C719.3 593.8 741.3 601.2 763.0 612.0 C784.7 622.8 809.7 637.0 830.0 650.0 C850.3 663.0 870.7 676.2 885.0 690.0 C899.3 703.8 908.3 715.7 916.0 733.0 C923.7 750.3 929.0 773.7 931.0 794.0 C933.0 814.3 932.5 840.3 928.0 855.0 C923.5 869.7 904.0 882.0 904.0 882.0 C904.0 882.0 874.0 878.3 855.0 873.0 C836.0 867.7 810.3 857.8 790.0 850.0 C769.7 842.2 752.7 834.3 733.0 826.0 C713.3 817.7 692.3 808.3 672.0 800.0 C651.7 791.7 629.7 784.3 611.0 776.0 C592.3 767.7 575.3 759.0 560.0 750.0 C544.7 741.0 532.3 732.3 519.0 722.0 C505.7 711.7 493.2 700.3 480.0 688.0 C466.8 675.7 453.8 663.3 440.0 648.0 C426.2 632.7 412.0 614.0 397.0 596.0 C382.0 578.0 365.8 562.0 350.0 540.0 C334.2 518.0 302.0 464.0 302.0 464.0 Z"/></clipPath>
<path d="M302.0 464.0 C302.0 464.0 312.3 492.8 323.0 507.0 C333.7 521.2 353.7 538.3 366.0 549.0 C378.3 559.7 381.7 566.3 397.0 571.0 C412.3 575.7 432.7 577.5 458.0 577.0 C483.3 576.5 523.5 570.5 549.0 568.0 C574.5 565.5 594.7 563.5 611.0 562.0 C627.3 560.5 632.2 555.2 647.0 559.0 C661.8 562.8 680.7 576.2 700.0 585.0 C719.3 593.8 741.3 601.2 763.0 612.0 C784.7 622.8 809.7 637.0 830.0 650.0 C850.3 663.0 870.7 676.2 885.0 690.0 C899.3 703.8 908.3 715.7 916.0 733.0 C923.7 750.3 929.0 773.7 931.0 794.0 C933.0 814.3 932.5 840.3 928.0 855.0 C923.5 869.7 904.0 882.0 904.0 882.0 C904.0 882.0 874.0 878.3 855.0 873.0 C836.0 867.7 810.3 857.8 790.0 850.0 C769.7 842.2 752.7 834.3 733.0 826.0 C713.3 817.7 692.3 808.3 672.0 800.0 C651.7 791.7 629.7 784.3 611.0 776.0 C592.3 767.7 575.3 759.0 560.0 750.0 C544.7 741.0 532.3 732.3 519.0 722.0 C505.7 711.7 493.2 700.3 480.0 688.0 C466.8 675.7 453.8 663.3 440.0 648.0 C426.2 632.7 412.0 614.0 397.0 596.0 C382.0 578.0 365.8 562.0 350.0 540.0 C334.2 518.0 302.0 464.0 302.0 464.0 Z" fill="url(#gLeafD)" stroke="#7ea05a" stroke-width="5" stroke-linejoin="round"/>
<g clip-path="url(#lc3)"><g filter="url(#blurM)" opacity="0.45"><ellipse cx="847" cy="749" rx="47" ry="44" fill="#8ab860"/><ellipse cx="621" cy="644" rx="58" ry="31" fill="#7aa852"/><ellipse cx="464" cy="591" rx="25" ry="30" fill="#4a7a38"/><ellipse cx="667" cy="472" rx="27" ry="36" fill="#7aa852"/><ellipse cx="595" cy="748" rx="46" ry="27" fill="#4a7a38"/><ellipse cx="610" cy="710" rx="59" ry="26" fill="#8ab860"/><ellipse cx="589" cy="712" rx="31" ry="25" fill="#4a7a38"/><ellipse cx="779" cy="817" rx="36" ry="29" fill="#4a7a38"/><ellipse cx="788" cy="475" rx="36" ry="26" fill="#7aa852"/><ellipse cx="808" cy="564" rx="49" ry="36" fill="#7aa852"/></g></g>
<path d="M310.0 480.0 C341.7 508.3 435.0 600.0 500.0 650.0 C565.0 700.0 633.3 742.3 700.0 780.0 C766.7 817.7 866.7 860.0 900.0 876.0" fill="none" stroke="#8cb474" stroke-width="4" opacity="0.7"/>
<clipPath id="lc4"><path d="M522.0 88.0 C522.0 88.0 547.3 140.2 562.0 159.0 C576.7 177.8 591.7 192.8 610.0 201.0 C628.3 209.2 646.5 204.5 672.0 208.0 C697.5 211.5 735.0 213.7 763.0 222.0 C791.0 230.3 817.2 246.7 840.0 258.0 C862.8 269.3 883.3 278.5 900.0 290.0 C916.7 301.5 926.8 310.3 940.0 327.0 C953.2 343.7 967.8 368.0 979.0 390.0 C990.2 412.0 1001.3 436.0 1007.0 459.0 C1012.7 482.0 1014.8 505.2 1013.0 528.0 C1011.2 550.8 1005.5 576.0 996.0 596.0 C986.5 616.0 969.3 633.7 956.0 648.0 C942.7 662.3 916.0 682.0 916.0 682.0 C916.0 682.0 854.5 658.0 824.0 641.0 C793.5 624.0 763.5 607.5 733.0 580.0 C702.5 552.5 667.5 511.7 641.0 476.0 C614.5 440.3 592.5 405.3 574.0 366.0 C555.5 326.7 538.7 286.3 530.0 240.0 C521.3 193.7 522.0 88.0 522.0 88.0 Z"/></clipPath>
<path d="M522.0 88.0 C522.0 88.0 547.3 140.2 562.0 159.0 C576.7 177.8 591.7 192.8 610.0 201.0 C628.3 209.2 646.5 204.5 672.0 208.0 C697.5 211.5 735.0 213.7 763.0 222.0 C791.0 230.3 817.2 246.7 840.0 258.0 C862.8 269.3 883.3 278.5 900.0 290.0 C916.7 301.5 926.8 310.3 940.0 327.0 C953.2 343.7 967.8 368.0 979.0 390.0 C990.2 412.0 1001.3 436.0 1007.0 459.0 C1012.7 482.0 1014.8 505.2 1013.0 528.0 C1011.2 550.8 1005.5 576.0 996.0 596.0 C986.5 616.0 969.3 633.7 956.0 648.0 C942.7 662.3 916.0 682.0 916.0 682.0 C916.0 682.0 854.5 658.0 824.0 641.0 C793.5 624.0 763.5 607.5 733.0 580.0 C702.5 552.5 667.5 511.7 641.0 476.0 C614.5 440.3 592.5 405.3 574.0 366.0 C555.5 326.7 538.7 286.3 530.0 240.0 C521.3 193.7 522.0 88.0 522.0 88.0 Z" fill="url(#gLeafA)" stroke="#7ea05a" stroke-width="5" stroke-linejoin="round"/>
<g clip-path="url(#lc4)"><g filter="url(#blurM)" opacity="0.45"><ellipse cx="570" cy="445" rx="49" ry="26" fill="#4a7a38"/><ellipse cx="920" cy="659" rx="37" ry="36" fill="#8ab860"/><ellipse cx="956" cy="356" rx="53" ry="21" fill="#7aa852"/><ellipse cx="992" cy="275" rx="55" ry="29" fill="#7aa852"/><ellipse cx="929" cy="139" rx="46" ry="31" fill="#4a7a38"/><ellipse cx="777" cy="593" rx="37" ry="30" fill="#94bc6a"/><ellipse cx="728" cy="331" rx="30" ry="20" fill="#94bc6a"/><ellipse cx="985" cy="611" rx="45" ry="45" fill="#94bc6a"/><ellipse cx="874" cy="107" rx="54" ry="37" fill="#94bc6a"/><ellipse cx="777" cy="260" rx="56" ry="42" fill="#4a7a38"/></g></g>
<path d="M526.0 110.0 C538.3 146.7 561.0 261.7 600.0 330.0 C639.0 398.3 707.7 461.7 760.0 520.0 C812.3 578.3 888.3 653.3 914.0 680.0" fill="none" stroke="#8cb474" stroke-width="4" opacity="0.7"/>
<clipPath id="lc5"><path d="M1076.0 579.0 C1076.0 579.0 1052.5 563.2 1042.0 545.0 C1031.5 526.8 1018.8 503.5 1013.0 470.0 C1007.2 436.5 1004.2 377.3 1007.0 344.0 C1009.8 310.7 1018.5 295.8 1030.0 270.0 C1041.5 244.2 1056.8 213.0 1076.0 189.0 C1095.2 165.0 1120.2 145.0 1145.0 126.0 C1169.8 107.0 1197.3 86.5 1225.0 75.0 C1252.7 63.5 1282.3 60.5 1311.0 57.0 C1339.7 53.5 1370.2 54.5 1397.0 54.0 C1423.8 53.5 1454.8 56.3 1472.0 54.0 C1489.2 51.7 1486.7 45.3 1500.0 40.0 C1513.3 34.7 1552.0 22.0 1552.0 22.0 C1552.0 22.0 1523.5 36.2 1512.0 43.0 C1500.5 49.8 1485.8 54.8 1483.0 63.0 C1480.2 71.2 1490.2 78.7 1495.0 92.0 C1499.8 105.3 1508.2 126.8 1512.0 143.0 C1515.8 159.2 1519.0 172.7 1518.0 189.0 C1517.0 205.3 1512.7 224.7 1506.0 241.0 C1499.3 257.3 1490.3 273.7 1478.0 287.0 C1465.7 300.3 1449.3 309.5 1432.0 321.0 C1414.7 332.5 1390.3 345.5 1374.0 356.0 C1357.7 366.5 1343.5 372.7 1334.0 384.0 C1324.5 395.3 1321.7 409.7 1317.0 424.0 C1312.3 438.3 1315.5 456.5 1306.0 470.0 C1296.5 483.5 1279.2 493.5 1260.0 505.0 C1240.8 516.5 1213.0 529.5 1191.0 539.0 C1169.0 548.5 1147.2 555.3 1128.0 562.0 C1108.8 568.7 1076.0 579.0 1076.0 579.0 Z"/></clipPath>
<path d="M1076.0 579.0 C1076.0 579.0 1052.5 563.2 1042.0 545.0 C1031.5 526.8 1018.8 503.5 1013.0 470.0 C1007.2 436.5 1004.2 377.3 1007.0 344.0 C1009.8 310.7 1018.5 295.8 1030.0 270.0 C1041.5 244.2 1056.8 213.0 1076.0 189.0 C1095.2 165.0 1120.2 145.0 1145.0 126.0 C1169.8 107.0 1197.3 86.5 1225.0 75.0 C1252.7 63.5 1282.3 60.5 1311.0 57.0 C1339.7 53.5 1370.2 54.5 1397.0 54.0 C1423.8 53.5 1454.8 56.3 1472.0 54.0 C1489.2 51.7 1486.7 45.3 1500.0 40.0 C1513.3 34.7 1552.0 22.0 1552.0 22.0 C1552.0 22.0 1523.5 36.2 1512.0 43.0 C1500.5 49.8 1485.8 54.8 1483.0 63.0 C1480.2 71.2 1490.2 78.7 1495.0 92.0 C1499.8 105.3 1508.2 126.8 1512.0 143.0 C1515.8 159.2 1519.0 172.7 1518.0 189.0 C1517.0 205.3 1512.7 224.7 1506.0 241.0 C1499.3 257.3 1490.3 273.7 1478.0 287.0 C1465.7 300.3 1449.3 309.5 1432.0 321.0 C1414.7 332.5 1390.3 345.5 1374.0 356.0 C1357.7 366.5 1343.5 372.7 1334.0 384.0 C1324.5 395.3 1321.7 409.7 1317.0 424.0 C1312.3 438.3 1315.5 456.5 1306.0 470.0 C1296.5 483.5 1279.2 493.5 1260.0 505.0 C1240.8 516.5 1213.0 529.5 1191.0 539.0 C1169.0 548.5 1147.2 555.3 1128.0 562.0 C1108.8 568.7 1076.0 579.0 1076.0 579.0 Z" fill="url(#gLeafB)" stroke="#7ea05a" stroke-width="5" stroke-linejoin="round"/>
<g clip-path="url(#lc5)"><g filter="url(#blurM)" opacity="0.45"><ellipse cx="1475" cy="563" rx="53" ry="21" fill="#8ab860"/><ellipse cx="1499" cy="408" rx="56" ry="42" fill="#7aa852"/><ellipse cx="1321" cy="29" rx="31" ry="27" fill="#8ab860"/><ellipse cx="1368" cy="314" rx="27" ry="43" fill="#94bc6a"/><ellipse cx="1069" cy="92" rx="53" ry="22" fill="#94bc6a"/><ellipse cx="1127" cy="90" rx="31" ry="40" fill="#8ab860"/><ellipse cx="1509" cy="471" rx="42" ry="34" fill="#8ab860"/><ellipse cx="1225" cy="443" rx="34" ry="33" fill="#7aa852"/><ellipse cx="1238" cy="285" rx="55" ry="39" fill="#8ab860"/><ellipse cx="1032" cy="50" rx="59" ry="41" fill="#94bc6a"/></g></g>
<path d="M1080.0 575.0 C1108.3 545.8 1196.7 459.2 1250.0 400.0 C1303.3 340.8 1361.7 275.0 1400.0 220.0 C1438.3 165.0 1466.7 95.0 1480.0 70.0" fill="none" stroke="#8cb474" stroke-width="4" opacity="0.7"/>
<clipPath id="lc6"><path d="M1111.0 803.0 C1111.0 803.0 1149.0 765.2 1168.0 746.0 C1187.0 726.8 1205.8 707.2 1225.0 688.0 C1244.2 668.8 1263.8 648.2 1283.0 631.0 C1302.2 613.8 1316.2 598.3 1340.0 585.0 C1363.8 571.7 1397.3 560.0 1426.0 551.0 C1454.7 542.0 1485.2 533.5 1512.0 531.0 C1538.8 528.5 1563.0 530.8 1587.0 536.0 C1611.0 541.2 1634.0 552.8 1656.0 562.0 C1678.0 571.2 1700.0 582.3 1719.0 591.0 C1738.0 599.7 1756.7 610.2 1770.0 614.0 C1783.3 617.8 1784.7 615.0 1799.0 614.0 C1813.3 613.0 1838.8 607.0 1856.0 608.0 C1873.2 609.0 1889.3 615.7 1902.0 620.0 C1914.7 624.3 1932.0 634.0 1932.0 634.0 C1932.0 634.0 1940.8 645.2 1932.0 648.0 C1923.2 650.8 1896.3 652.8 1879.0 651.0 C1861.7 649.2 1842.3 640.8 1828.0 637.0 C1813.7 633.2 1807.3 625.2 1793.0 628.0 C1778.7 630.8 1760.2 644.8 1742.0 654.0 C1723.8 663.2 1705.2 673.5 1684.0 683.0 C1662.8 692.5 1638.8 702.5 1615.0 711.0 C1591.2 719.5 1567.7 728.2 1541.0 734.0 C1514.3 739.8 1483.7 742.2 1455.0 746.0 C1426.3 749.8 1397.7 753.7 1369.0 757.0 C1340.3 760.3 1308.8 763.2 1283.0 766.0 C1257.2 768.8 1235.0 769.7 1214.0 774.0 C1193.0 778.3 1174.2 787.2 1157.0 792.0 C1139.8 796.8 1111.0 803.0 1111.0 803.0 Z"/></clipPath>
<path d="M1111.0 803.0 C1111.0 803.0 1149.0 765.2 1168.0 746.0 C1187.0 726.8 1205.8 707.2 1225.0 688.0 C1244.2 668.8 1263.8 648.2 1283.0 631.0 C1302.2 613.8 1316.2 598.3 1340.0 585.0 C1363.8 571.7 1397.3 560.0 1426.0 551.0 C1454.7 542.0 1485.2 533.5 1512.0 531.0 C1538.8 528.5 1563.0 530.8 1587.0 536.0 C1611.0 541.2 1634.0 552.8 1656.0 562.0 C1678.0 571.2 1700.0 582.3 1719.0 591.0 C1738.0 599.7 1756.7 610.2 1770.0 614.0 C1783.3 617.8 1784.7 615.0 1799.0 614.0 C1813.3 613.0 1838.8 607.0 1856.0 608.0 C1873.2 609.0 1889.3 615.7 1902.0 620.0 C1914.7 624.3 1932.0 634.0 1932.0 634.0 C1932.0 634.0 1940.8 645.2 1932.0 648.0 C1923.2 650.8 1896.3 652.8 1879.0 651.0 C1861.7 649.2 1842.3 640.8 1828.0 637.0 C1813.7 633.2 1807.3 625.2 1793.0 628.0 C1778.7 630.8 1760.2 644.8 1742.0 654.0 C1723.8 663.2 1705.2 673.5 1684.0 683.0 C1662.8 692.5 1638.8 702.5 1615.0 711.0 C1591.2 719.5 1567.7 728.2 1541.0 734.0 C1514.3 739.8 1483.7 742.2 1455.0 746.0 C1426.3 749.8 1397.7 753.7 1369.0 757.0 C1340.3 760.3 1308.8 763.2 1283.0 766.0 C1257.2 768.8 1235.0 769.7 1214.0 774.0 C1193.0 778.3 1174.2 787.2 1157.0 792.0 C1139.8 796.8 1111.0 803.0 1111.0 803.0 Z" fill="url(#gLeafC)" stroke="#7ea05a" stroke-width="5" stroke-linejoin="round"/>
<g clip-path="url(#lc6)"><g filter="url(#blurM)" opacity="0.45"><ellipse cx="1182" cy="668" rx="30" ry="22" fill="#4a7a38"/><ellipse cx="1428" cy="637" rx="38" ry="25" fill="#4a7a38"/><ellipse cx="1381" cy="565" rx="50" ry="30" fill="#8ab860"/><ellipse cx="1177" cy="580" rx="41" ry="36" fill="#4a7a38"/><ellipse cx="1555" cy="704" rx="47" ry="31" fill="#8ab860"/><ellipse cx="1417" cy="666" rx="40" ry="37" fill="#4a7a38"/><ellipse cx="1489" cy="598" rx="49" ry="22" fill="#4a7a38"/><ellipse cx="1460" cy="647" rx="58" ry="29" fill="#8ab860"/><ellipse cx="1848" cy="746" rx="29" ry="37" fill="#4a7a38"/><ellipse cx="1882" cy="730" rx="48" ry="38" fill="#94bc6a"/></g></g>
<path d="M1115.0 800.0 C1145.8 786.7 1227.5 745.0 1300.0 720.0 C1372.5 695.0 1468.3 665.8 1550.0 650.0 C1631.7 634.2 1727.5 626.7 1790.0 625.0 C1852.5 623.3 1902.5 637.5 1925.0 640.0" fill="none" stroke="#8cb474" stroke-width="4" opacity="0.7"/>
<path d="M1870 618 L1932 634 L1932 648 L1880 650 Z" fill="#c8c8b0" opacity="0.8"/>
<path d="M1510 40 L1552 22 L1530 36 Z" fill="#d8d0b0"/>
</g>
<g transform="translate(1540 60) scale(0.22153)">
<path d="M510.8 193.9 C510.8 193.9 520.2 157.7 538.9 144.8 C557.6 132.0 592.6 122.0 623.0 116.8 C653.4 111.5 697.7 112.7 721.1 113.3 C744.5 113.9 742.2 118.5 763.2 120.3 C784.2 122.0 813.4 118.5 847.3 123.8 C881.2 129.1 929.0 137.8 966.4 151.8 C1003.8 165.8 1047.1 190.4 1071.6 207.9 C1096.1 225.4 1103.1 238.2 1113.6 256.9 C1124.1 275.6 1134.6 320.0 1134.6 320.0 C1134.6 320.0 1165.0 327.0 1183.7 334.0 C1202.4 341.0 1228.1 348.1 1246.8 362.1 C1265.5 376.1 1284.1 399.4 1295.8 418.1 C1307.5 436.8 1312.2 453.2 1316.9 474.2 C1321.6 495.2 1325.1 523.3 1323.9 544.3 C1322.7 565.3 1307.6 581.7 1309.9 600.4 C1312.2 619.1 1330.9 634.3 1337.9 656.5 C1344.9 678.7 1350.7 709.1 1351.9 733.6 C1353.1 758.1 1351.9 780.2 1344.9 803.6 C1337.9 827.0 1325.1 852.7 1309.9 873.7 C1294.7 894.7 1272.5 913.4 1253.8 929.8 C1235.1 946.2 1197.8 971.9 1197.8 971.9 C1197.8 971.9 1156.9 957.9 1141.7 964.9 C1126.5 971.9 1118.3 996.4 1106.6 1013.9 C1094.9 1031.4 1086.8 1051.3 1071.6 1070.0 C1056.4 1088.7 1038.9 1110.9 1015.5 1126.1 C992.1 1141.3 959.4 1155.3 931.4 1161.1 C903.4 1166.9 876.5 1164.6 847.3 1161.1 C818.1 1157.6 781.9 1150.6 756.2 1140.1 C730.5 1129.6 710.6 1109.8 693.1 1098.1 C675.6 1086.4 651.0 1070.0 651.0 1070.0 C651.0 1070.0 623.0 1089.9 602.0 1098.1 C581.0 1106.3 554.0 1116.8 524.8 1119.1 C495.6 1121.4 457.1 1117.9 426.7 1112.1 C396.3 1106.3 367.1 1095.8 342.6 1084.1 C318.1 1072.4 295.9 1059.5 279.5 1042.0 C263.1 1024.5 259.7 994.1 244.5 978.9 C229.3 963.7 202.4 962.5 188.4 950.8 C174.4 939.1 163.9 927.5 160.4 908.8 C156.9 890.1 165.1 867.9 167.4 838.7 C169.7 809.5 175.6 762.8 174.4 733.6 C173.2 704.4 163.9 692.7 160.4 663.5 C156.9 634.3 152.2 592.2 153.4 558.3 C154.6 524.4 162.7 491.7 167.4 460.2 C172.1 428.7 170.9 396.0 181.4 369.1 C191.9 342.2 211.8 321.2 230.5 299.0 C249.2 276.8 270.2 251.1 293.6 235.9 C317.0 220.7 346.2 212.6 370.7 207.9 C395.2 203.2 440.8 207.9 440.8 207.9 C440.8 207.9 471.1 217.2 482.8 214.9 C494.5 212.6 510.8 193.9 510.8 193.9 Z" fill="url(#gBig)" stroke="#dcdce6" stroke-width="5"/>
<g fill="none" stroke="#d4d4de" stroke-width="8" stroke-linecap="round" opacity="0.9"><path d="M180 900 C260 950 380 980 500 960 C560 950 600 955 640 960"/><path d="M640 960 C680 1010 760 1060 860 1070 C960 1075 1040 1040 1090 1000 C1120 970 1140 960 1150 960"/><path d="M482 215 C520 260 560 300 600 330"/><path d="M1134 320 C1150 380 1160 430 1170 470"/><path d="M1310 600 C1270 640 1230 660 1190 680"/><path d="M763 120 C780 160 790 190 800 220"/></g>
<circle cx="721" cy="684" r="230" fill="url(#gCenter)"/>
<circle cx="716" cy="684" r="150" fill="#ccd468"/>
<g fill="#7e9e38"><ellipse cx="611" cy="594" rx="40" ry="28"/><ellipse cx="831" cy="774" rx="40" ry="25"/><ellipse cx="681" cy="834" rx="28" ry="22"/><ellipse cx="851" cy="614" rx="30" ry="20"/></g>
<g fill="none" stroke="#b8b8c0" stroke-width="11" opacity="0.35" transform="translate(12 18)"><path d="M696 629 Q605 433 525 257"/><path d="M694 631 Q609 441 514 278"/><path d="M718 624 Q706 410 693 204"/><path d="M738 626 Q783 423 854 218"/><path d="M755 635 Q859 465 991 299"/><path d="M763 641 Q890 482 1044 348"/><path d="M768 646 Q924 528 1086 390"/><path d="M709 625 Q665 463 644 317"/><path d="M726 624 Q745 473 756 295"/><path d="M730 625 Q754 483 774 348"/><path d="M743 628 Q815 471 858 341"/><path d="M678 642 Q589 540 479 450"/><path d="M673 648 Q525 532 399 439"/><path d="M670 652 Q504 560 350 450"/><path d="M694 631 Q633 534 591 432"/><path d="M712 625 Q703 532 686 446"/><path d="M733 625 Q753 519 770 439"/><path d="M746 629 Q773 532 826 453"/><path d="M689 633 Q648 555 595 481"/><path d="M704 627 Q675 553 658 474"/><path d="M663 671 Q508 629 357 600"/><path d="M662 674 Q523 653 367 621"/><path d="M661 678 Q529 668 413 653"/><path d="M667 657 Q590 630 511 579"/><path d="M662 672 Q600 651 525 642"/><path d="M661 687 Q620 678 549 692"/><path d="M661 689 Q627 700 598 695"/><path d="M698 629 Q682 614 686 600"/><path d="M661 688 Q506 704 378 709"/><path d="M662 697 Q507 735 336 769"/><path d="M669 714 Q580 765 469 828"/><path d="M670 716 Q547 801 413 881"/><path d="M687 733 Q627 820 563 909"/><path d="M689 735 Q675 788 641 814"/><path d="M733 743 Q747 825 763 898"/><path d="M729 744 Q734 901 767 1045"/><path d="M765 724 Q862 823 949 891"/><path d="M776 708 Q921 760 1047 825"/><path d="M779 698 Q861 722 949 737"/><path d="M779 698 Q816 709 882 723"/><path d="M780 676 Q948 641 1135 628"/><path d="M780 673 Q967 645 1180 600"/><path d="M737 742 Q737 774 760 821"/><path d="M738 626 Q775 495 819 341"/><path d="M690 735 Q623 824 581 916"/><path d="M763 726 Q814 787 861 825"/><path d="M671 651 Q555 581 420 488"/><path d="M667 658 Q554 606 455 558"/><path d="M781 687 Q887 704 1001 699"/></g>
<g stroke="#dde4a0" stroke-width="8" stroke-linecap="round"><line x1="789" y1="666" x2="884" y2="630"/><line x1="728" y1="754" x2="740" y2="904"/><line x1="791" y1="686" x2="934" y2="692"/><line x1="788" y1="664" x2="964" y2="616"/><line x1="690" y1="621" x2="662" y2="539"/><line x1="770" y1="634" x2="907" y2="489"/><line x1="777" y1="726" x2="928" y2="815"/><line x1="739" y1="752" x2="771" y2="848"/><line x1="791" y1="684" x2="893" y2="680"/><line x1="790" y1="695" x2="997" y2="709"/><line x1="720" y1="754" x2="724" y2="886"/><line x1="762" y1="627" x2="893" y2="440"/><line x1="781" y1="720" x2="865" y2="762"/><line x1="754" y1="622" x2="789" y2="539"/><line x1="652" y1="672" x2="552" y2="670"/><line x1="652" y1="672" x2="433" y2="620"/><line x1="716" y1="754" x2="720" y2="887"/><line x1="652" y1="670" x2="458" y2="644"/><line x1="747" y1="619" x2="852" y2="416"/><line x1="750" y1="620" x2="817" y2="447"/><line x1="678" y1="739" x2="638" y2="810"/><line x1="717" y1="754" x2="683" y2="938"/><line x1="786" y1="657" x2="1005" y2="562"/><line x1="734" y1="753" x2="766" y2="863"/><line x1="671" y1="635" x2="532" y2="484"/><line x1="681" y1="627" x2="549" y2="458"/><line x1="780" y1="646" x2="953" y2="539"/><line x1="751" y1="747" x2="846" y2="932"/><line x1="790" y1="672" x2="926" y2="665"/><line x1="710" y1="615" x2="680" y2="513"/><line x1="779" y1="645" x2="934" y2="546"/><line x1="790" y1="675" x2="967" y2="656"/><line x1="769" y1="735" x2="814" y2="799"/><line x1="652" y1="672" x2="434" y2="615"/><line x1="753" y1="622" x2="797" y2="519"/><line x1="725" y1="754" x2="747" y2="921"/><line x1="769" y1="735" x2="922" y2="893"/><line x1="660" y1="649" x2="471" y2="521"/><line x1="651" y1="683" x2="491" y2="704"/><line x1="656" y1="710" x2="563" y2="739"/><line x1="754" y1="746" x2="816" y2="880"/><line x1="689" y1="746" x2="614" y2="880"/><line x1="776" y1="727" x2="912" y2="820"/><line x1="731" y1="615" x2="755" y2="462"/><line x1="781" y1="647" x2="908" y2="571"/><line x1="651" y1="679" x2="468" y2="663"/><line x1="652" y1="694" x2="431" y2="702"/><line x1="786" y1="659" x2="898" y2="633"/><line x1="759" y1="625" x2="801" y2="539"/><line x1="784" y1="715" x2="894" y2="772"/><line x1="736" y1="616" x2="762" y2="409"/><line x1="684" y1="625" x2="641" y2="531"/><line x1="734" y1="753" x2="782" y2="971"/><line x1="791" y1="680" x2="993" y2="663"/><line x1="651" y1="677" x2="520" y2="672"/><line x1="709" y1="615" x2="696" y2="534"/><line x1="791" y1="692" x2="919" y2="707"/><line x1="785" y1="712" x2="988" y2="826"/><line x1="776" y1="727" x2="881" y2="808"/><line x1="712" y1="753" x2="702" y2="850"/></g>
<g fill="none" stroke="#eaebb8" stroke-width="11" stroke-linecap="round"><path d="M696 629 Q605 433 525 257"/><path d="M694 631 Q609 441 514 278"/><path d="M718 624 Q706 410 693 204"/><path d="M738 626 Q783 423 854 218"/><path d="M755 635 Q859 465 991 299"/><path d="M763 641 Q890 482 1044 348"/><path d="M768 646 Q924 528 1086 390"/><path d="M709 625 Q665 463 644 317"/><path d="M726 624 Q745 473 756 295"/><path d="M730 625 Q754 483 774 348"/><path d="M743 628 Q815 471 858 341"/><path d="M678 642 Q589 540 479 450"/><path d="M673 648 Q525 532 399 439"/><path d="M670 652 Q504 560 350 450"/><path d="M694 631 Q633 534 591 432"/><path d="M712 625 Q703 532 686 446"/><path d="M733 625 Q753 519 770 439"/><path d="M746 629 Q773 532 826 453"/><path d="M689 633 Q648 555 595 481"/><path d="M704 627 Q675 553 658 474"/><path d="M663 671 Q508 629 357 600"/><path d="M662 674 Q523 653 367 621"/><path d="M661 678 Q529 668 413 653"/><path d="M667 657 Q590 630 511 579"/><path d="M662 672 Q600 651 525 642"/><path d="M661 687 Q620 678 549 692"/><path d="M661 689 Q627 700 598 695"/><path d="M698 629 Q682 614 686 600"/><path d="M661 688 Q506 704 378 709"/><path d="M662 697 Q507 735 336 769"/><path d="M669 714 Q580 765 469 828"/><path d="M670 716 Q547 801 413 881"/><path d="M687 733 Q627 820 563 909"/><path d="M689 735 Q675 788 641 814"/><path d="M733 743 Q747 825 763 898"/><path d="M729 744 Q734 901 767 1045"/><path d="M765 724 Q862 823 949 891"/><path d="M776 708 Q921 760 1047 825"/><path d="M779 698 Q861 722 949 737"/><path d="M779 698 Q816 709 882 723"/><path d="M780 676 Q948 641 1135 628"/><path d="M780 673 Q967 645 1180 600"/><path d="M737 742 Q737 774 760 821"/><path d="M738 626 Q775 495 819 341"/><path d="M690 735 Q623 824 581 916"/><path d="M763 726 Q814 787 861 825"/><path d="M671 651 Q555 581 420 488"/><path d="M667 658 Q554 606 455 558"/><path d="M781 687 Q887 704 1001 699"/></g>
<circle cx="711" cy="684" r="82" fill="#a06e1e"/>
<circle cx="696" cy="694" r="48" fill="#5e4010"/>
<path d="M701 704 C711 754 741 764 766 749 L751 679 Z" fill="#7a9a30"/>
<path d="M761 604 C831 624 811 724 781 754" fill="none" stroke="#f4f4d8" stroke-width="9"/>
<g fill="#d2b038"><ellipse cx="525" cy="257" rx="16" ry="23" transform="rotate(-115 525 257)"/><ellipse cx="514" cy="278" rx="16" ry="23" transform="rotate(-117 514 278)"/><ellipse cx="693" cy="204" rx="16" ry="23" transform="rotate(-93 693 204)"/><ellipse cx="854" cy="218" rx="16" ry="23" transform="rotate(-74 854 218)"/><ellipse cx="991" cy="299" rx="16" ry="23" transform="rotate(-55 991 299)"/><ellipse cx="1044" cy="348" rx="16" ry="23" transform="rotate(-46 1044 348)"/><ellipse cx="1086" cy="390" rx="16" ry="23" transform="rotate(-39 1086 390)"/><ellipse cx="644" cy="317" rx="16" ry="23" transform="rotate(-102 644 317)"/><ellipse cx="756" cy="295" rx="16" ry="23" transform="rotate(-85 756 295)"/><ellipse cx="774" cy="348" rx="16" ry="23" transform="rotate(-81 774 348)"/><ellipse cx="858" cy="341" rx="16" ry="23" transform="rotate(-68 858 341)"/><ellipse cx="479" cy="450" rx="16" ry="23" transform="rotate(-136 479 450)"/><ellipse cx="399" cy="439" rx="16" ry="23" transform="rotate(-143 399 439)"/><ellipse cx="350" cy="450" rx="16" ry="23" transform="rotate(-148 350 450)"/><ellipse cx="591" cy="432" rx="16" ry="23" transform="rotate(-117 591 432)"/><ellipse cx="686" cy="446" rx="16" ry="23" transform="rotate(-98 686 446)"/><ellipse cx="770" cy="439" rx="16" ry="23" transform="rotate(-79 770 439)"/><ellipse cx="826" cy="453" rx="16" ry="23" transform="rotate(-65 826 453)"/><ellipse cx="595" cy="481" rx="16" ry="23" transform="rotate(-122 595 481)"/><ellipse cx="658" cy="474" rx="16" ry="23" transform="rotate(-107 658 474)"/><ellipse cx="357" cy="600" rx="16" ry="23" transform="rotate(-167 357 600)"/><ellipse cx="367" cy="621" rx="16" ry="23" transform="rotate(-170 367 621)"/><ellipse cx="413" cy="653" rx="16" ry="23" transform="rotate(-174 413 653)"/><ellipse cx="511" cy="579" rx="16" ry="23" transform="rotate(-154 511 579)"/><ellipse cx="525" cy="642" rx="16" ry="23" transform="rotate(-168 525 642)"/><ellipse cx="549" cy="692" rx="16" ry="23" transform="rotate(177 549 692)"/><ellipse cx="598" cy="695" rx="16" ry="23" transform="rotate(175 598 695)"/><ellipse cx="686" cy="600" rx="16" ry="23" transform="rotate(-113 686 600)"/><ellipse cx="378" cy="709" rx="16" ry="23" transform="rotate(176 378 709)"/><ellipse cx="336" cy="769" rx="16" ry="23" transform="rotate(168 336 769)"/><ellipse cx="469" cy="828" rx="16" ry="23" transform="rotate(150 469 828)"/><ellipse cx="413" cy="881" rx="16" ry="23" transform="rotate(147 413 881)"/><ellipse cx="563" cy="909" rx="16" ry="23" transform="rotate(125 563 909)"/><ellipse cx="641" cy="814" rx="16" ry="23" transform="rotate(122 641 814)"/><ellipse cx="763" cy="898" rx="16" ry="23" transform="rotate(79 763 898)"/><ellipse cx="767" cy="1045" rx="16" ry="23" transform="rotate(83 767 1045)"/><ellipse cx="949" cy="891" rx="16" ry="23" transform="rotate(42 949 891)"/><ellipse cx="1047" cy="825" rx="16" ry="23" transform="rotate(23 1047 825)"/><ellipse cx="949" cy="737" rx="16" ry="23" transform="rotate(13 949 737)"/><ellipse cx="882" cy="723" rx="16" ry="23" transform="rotate(14 882 723)"/><ellipse cx="1135" cy="628" rx="16" ry="23" transform="rotate(-8 1135 628)"/><ellipse cx="1180" cy="600" rx="16" ry="23" transform="rotate(-10 1180 600)"/><ellipse cx="760" cy="821" rx="16" ry="23" transform="rotate(74 760 821)"/><ellipse cx="819" cy="341" rx="16" ry="23" transform="rotate(-74 819 341)"/><ellipse cx="581" cy="916" rx="16" ry="23" transform="rotate(121 581 916)"/><ellipse cx="861" cy="825" rx="16" ry="23" transform="rotate(45 861 825)"/><ellipse cx="420" cy="488" rx="16" ry="23" transform="rotate(-147 420 488)"/><ellipse cx="455" cy="558" rx="16" ry="23" transform="rotate(-155 455 558)"/><ellipse cx="1001" cy="699" rx="16" ry="23" transform="rotate(3 1001 699)"/></g>
</g>
<g transform="translate(977 400) scale(0.30175)">
<path d="M326 470 C330 495 334 515 338 528 C350 526 356 505 366 470 Z" fill="#8ab85a"/>
<path d="M352 322 C382 324 402 350 406 392 C406 412 298 412 296 392 C300 350 322 324 352 322 Z" fill="#f0ecdc"/>
<path d="M286 402 C300 392 322 398 340 416 C356 396 384 388 408 400 C412 430 398 458 372 474 L322 474 C300 458 286 432 286 402 Z" fill="#a85450"/>
<path d="M300 410 C310 430 330 440 345 420 C335 405 315 400 300 410 Z" fill="#b86a5c" opacity="0.8"/>
<path d="M380 400 C396 392 406 396 408 400 C410 430 398 450 384 462 C376 440 374 420 380 400 Z" fill="#8eaa52"/>
<path d="M322 474 L372 474 C366 456 340 452 322 474 Z" fill="#92b25a"/>
<path d="M517.0 369.2 C519.9 361.8 525.6 352.6 534.2 348.6 C542.8 344.6 559.9 349.8 568.5 345.2 C577.1 340.6 577.0 328.6 585.6 321.2 C594.2 313.8 607.3 304.9 619.9 300.6 C632.5 296.3 646.8 293.8 661.1 295.5 C675.4 297.2 695.4 304.9 705.7 310.9 C716.0 316.9 713.6 328.9 722.8 331.5 C731.9 334.1 746.3 324.6 760.6 326.3 C774.9 328.0 796.6 331.8 808.6 341.8 C820.6 351.8 831.5 370.4 832.6 386.4 C833.8 402.4 816.1 423.5 815.5 437.8 C814.9 452.1 829.2 459.0 829.2 472.1 C829.2 485.2 824.6 504.1 815.5 516.7 C806.4 529.3 789.8 540.2 774.3 547.6 C758.8 555.0 735.4 562.4 722.8 561.3 C710.2 560.2 707.4 545.4 698.8 540.8 C690.2 536.2 681.7 537.9 671.4 533.9 C661.1 529.9 651.4 523.6 637.1 516.7 C622.8 509.8 599.9 501.3 585.6 492.7 C571.3 484.1 561.0 475.6 551.3 465.3 C541.6 455.0 533.0 443.0 527.3 431.0 C521.6 419.0 518.7 403.5 517.0 393.2 C515.3 382.9 514.1 376.6 517.0 369.2 Z" fill="#f6f6f4" stroke="#d8d8d4" stroke-width="4"/>
<path d="M554.7 376.1 C556.4 363.0 554.8 352.6 568.5 345.2 C582.2 337.8 608.5 332.1 637.1 331.5 C665.7 330.9 716.0 334.4 740.0 341.8 C764.0 349.2 775.5 359.0 781.2 376.1 C786.9 393.2 778.3 425.3 774.3 444.7 C770.3 464.1 768.5 482.4 757.1 492.7 C745.7 503.0 725.7 506.4 705.7 506.4 C685.7 506.4 657.1 498.4 637.1 492.7 C617.1 487.0 598.8 483.5 585.6 472.1 C572.5 460.7 563.4 440.1 558.2 424.1 C553.1 408.1 553.0 389.2 554.7 376.1 Z" fill="#f2efe0"/>
<path d="M585 492 C630 480 680 490 720 505" fill="none" stroke="#dcdccc" stroke-width="5"/>
<path d="M690 470 L690 400 M680 470 L660 420 M700 470 L720 410" stroke="#c8d060" stroke-width="8"/>
<g fill="#e6cc2c"><circle cx="711" cy="380" r="5.4"/><circle cx="745" cy="385" r="6.8"/><circle cx="710" cy="412" r="6.7"/><circle cx="677" cy="412" r="7.3"/><circle cx="650" cy="368" r="5.2"/><circle cx="707" cy="394" r="7.2"/><circle cx="653" cy="414" r="6.4"/><circle cx="730" cy="392" r="5.3"/><circle cx="659" cy="400" r="5.3"/><circle cx="704" cy="415" r="5.5"/><circle cx="679" cy="433" r="6.9"/><circle cx="682" cy="443" r="5.4"/><circle cx="689" cy="411" r="5.6"/><circle cx="759" cy="410" r="6.4"/><circle cx="714" cy="440" r="7.3"/><circle cx="748" cy="436" r="6.1"/><circle cx="627" cy="407" r="6.0"/><circle cx="633" cy="403" r="7.5"/><circle cx="657" cy="447" r="6.8"/><circle cx="664" cy="379" r="5.9"/><circle cx="720" cy="412" r="5.2"/><circle cx="693" cy="377" r="5.4"/><circle cx="754" cy="431" r="7.2"/><circle cx="676" cy="379" r="5.6"/><circle cx="681" cy="441" r="5.4"/><circle cx="659" cy="414" r="7.4"/><circle cx="750" cy="398" r="5.6"/><circle cx="736" cy="398" r="5.9"/><circle cx="741" cy="405" r="6.2"/><circle cx="661" cy="405" r="6.3"/><circle cx="734" cy="406" r="5.2"/><circle cx="683" cy="412" r="5.1"/><circle cx="683" cy="430" r="6.5"/><circle cx="631" cy="396" r="6.6"/><circle cx="680" cy="355" r="6.0"/><circle cx="661" cy="453" r="5.4"/><circle cx="685" cy="361" r="5.1"/><circle cx="731" cy="360" r="6.6"/><circle cx="688" cy="356" r="5.3"/><circle cx="642" cy="399" r="7.1"/><circle cx="718" cy="358" r="6.5"/><circle cx="743" cy="377" r="6.7"/><circle cx="697" cy="415" r="5.3"/><circle cx="679" cy="419" r="7.1"/><circle cx="640" cy="389" r="6.6"/><circle cx="673" cy="370" r="5.0"/><circle cx="714" cy="360" r="6.3"/><circle cx="636" cy="395" r="5.2"/><circle cx="692" cy="377" r="5.2"/><circle cx="689" cy="452" r="5.5"/><circle cx="690" cy="351" r="6.2"/><circle cx="657" cy="431" r="6.7"/><circle cx="701" cy="362" r="6.6"/><circle cx="720" cy="415" r="5.6"/><circle cx="693" cy="375" r="6.4"/><circle cx="713" cy="406" r="5.7"/><circle cx="666" cy="365" r="6.7"/><circle cx="681" cy="443" r="6.2"/><circle cx="670" cy="409" r="7.2"/><circle cx="718" cy="457" r="7.3"/></g>
<path d="M672 532 C674 548 690 552 700 545 L700 530 Z" fill="#a8c040"/>
<path d="M952.7 325.9 C960.7 315.5 982.4 303.5 1000.8 297.1 C1019.2 290.7 1047.2 293.8 1063.2 287.4 C1079.2 281.0 1083.2 264.2 1096.8 258.6 C1110.4 253.0 1132.1 250.6 1144.9 253.8 C1157.7 257.0 1165.7 268.2 1173.7 277.8 C1181.7 287.4 1181.7 305.9 1192.9 311.5 C1204.1 317.1 1224.9 307.5 1240.9 311.5 C1256.9 315.5 1278.6 325.9 1289.0 335.5 C1299.4 345.1 1295.4 357.1 1303.4 369.1 C1311.4 381.1 1333.0 393.1 1337.0 407.5 C1341.0 421.9 1335.4 442.8 1327.4 455.6 C1319.4 468.4 1294.6 472.4 1289.0 484.4 C1283.4 496.4 1296.9 514.8 1293.7 527.6 C1290.5 540.4 1282.5 550.0 1269.7 561.2 C1256.9 572.4 1233.7 586.0 1216.9 594.8 C1200.1 603.6 1184.9 610.9 1168.9 614.1 C1152.9 617.3 1136.8 618.1 1120.8 614.1 C1104.8 610.1 1084.8 598.0 1072.8 590.0 C1060.8 582.0 1060.8 570.8 1048.8 566.0 C1036.8 561.2 1014.4 567.6 1000.8 561.2 C987.2 554.8 976.7 539.6 967.1 527.6 C957.5 515.6 947.5 504.4 943.1 489.2 C938.7 474.0 938.3 449.9 940.7 436.3 C943.1 422.7 955.5 420.3 957.5 407.5 C959.5 394.7 953.5 373.1 952.7 359.5 C951.9 345.9 944.7 336.3 952.7 325.9 Z" fill="#fafafc" stroke="#dcdce4" stroke-width="4"/>
<g fill="none" stroke="#e0e0e8" stroke-width="5"><path d="M1070 590 C1080 540 1110 520 1130 500"/><path d="M1290 484 C1250 470 1220 460 1190 450"/><path d="M960 408 C1000 410 1040 415 1070 420"/></g>
<g stroke="#e8ecd0" stroke-width="5"><line x1="1130" y1="422" x2="1044" y2="271"/><line x1="1130" y1="422" x2="1078" y2="248"/><line x1="1130" y1="422" x2="1133" y2="242"/><line x1="1130" y1="422" x2="1190" y2="247"/><line x1="1130" y1="422" x2="1236" y2="275"/><line x1="1130" y1="422" x2="1255" y2="309"/><line x1="1130" y1="422" x2="1303" y2="369"/><line x1="1130" y1="422" x2="1313" y2="412"/><line x1="1130" y1="422" x2="1284" y2="415"/><line x1="1130" y1="422" x2="1260" y2="477"/><line x1="1130" y1="422" x2="1239" y2="506"/><line x1="1130" y1="422" x2="1198" y2="499"/><line x1="1130" y1="422" x2="1140" y2="542"/><line x1="1130" y1="422" x2="1082" y2="547"/><line x1="1130" y1="422" x2="1032" y2="530"/><line x1="1130" y1="422" x2="1008" y2="518"/><line x1="1130" y1="422" x2="970" y2="475"/><line x1="1130" y1="422" x2="948" y2="422"/><line x1="1130" y1="422" x2="965" y2="397"/><line x1="1130" y1="422" x2="994" y2="391"/><line x1="1130" y1="422" x2="998" y2="316"/><line x1="1130" y1="422" x2="1034" y2="429"/><line x1="1130" y1="422" x2="1073" y2="518"/><line x1="1130" y1="422" x2="1154" y2="523"/><line x1="1130" y1="422" x2="1198" y2="381"/><line x1="1130" y1="422" x2="1174" y2="287"/><line x1="1130" y1="422" x2="1106" y2="297"/><line x1="1130" y1="422" x2="1049" y2="335"/><line x1="1130" y1="422" x2="1217" y2="441"/><line x1="1130" y1="422" x2="1174" y2="484"/><line x1="1130" y1="422" x2="1087" y2="484"/></g>
<g fill="#e8cc20"><circle cx="1044" cy="271" r="7"/><circle cx="1078" cy="248" r="7"/><circle cx="1133" cy="242" r="7"/><circle cx="1190" cy="247" r="7"/><circle cx="1236" cy="275" r="7"/><circle cx="1255" cy="309" r="7"/><circle cx="1303" cy="369" r="7"/><circle cx="1313" cy="412" r="7"/><circle cx="1284" cy="415" r="7"/><circle cx="1260" cy="477" r="7"/><circle cx="1239" cy="506" r="7"/><circle cx="1198" cy="499" r="7"/><circle cx="1140" cy="542" r="7"/><circle cx="1082" cy="547" r="7"/><circle cx="1032" cy="530" r="7"/><circle cx="1008" cy="518" r="7"/><circle cx="970" cy="475" r="7"/><circle cx="948" cy="422" r="7"/><circle cx="965" cy="397" r="7"/><circle cx="994" cy="391" r="7"/><circle cx="998" cy="316" r="7"/><circle cx="1034" cy="429" r="7"/><circle cx="1073" cy="518" r="7"/><circle cx="1154" cy="523" r="7"/><circle cx="1198" cy="381" r="7"/><circle cx="1174" cy="287" r="7"/><circle cx="1106" cy="297" r="7"/><circle cx="1049" cy="335" r="7"/><circle cx="1217" cy="441" r="7"/><circle cx="1174" cy="484" r="7"/><circle cx="1087" cy="484" r="7"/></g>
<circle cx="1130" cy="427" r="40" fill="#d0d860" opacity="0.85"/>
<g stroke="#b8c838" stroke-width="4"><line x1="1130" y1="432" x2="1171" y2="427"/><line x1="1130" y1="432" x2="1195" y2="451"/><line x1="1130" y1="432" x2="1173" y2="458"/><line x1="1130" y1="432" x2="1154" y2="486"/><line x1="1130" y1="432" x2="1138" y2="484"/><line x1="1130" y1="432" x2="1122" y2="482"/><line x1="1130" y1="432" x2="1093" y2="465"/><line x1="1130" y1="432" x2="1077" y2="462"/><line x1="1130" y1="432" x2="1063" y2="447"/><line x1="1130" y1="432" x2="1082" y2="426"/><line x1="1130" y1="432" x2="1077" y2="413"/><line x1="1130" y1="432" x2="1100" y2="391"/><line x1="1130" y1="432" x2="1103" y2="384"/><line x1="1130" y1="432" x2="1123" y2="377"/><line x1="1130" y1="432" x2="1140" y2="363"/><line x1="1130" y1="432" x2="1151" y2="373"/><line x1="1130" y1="432" x2="1184" y2="399"/><line x1="1130" y1="432" x2="1198" y2="407"/></g>
<g fill="#e0c828"><circle cx="1166" cy="407" r="4"/><circle cx="1118" cy="415" r="4"/><circle cx="1175" cy="432" r="4"/><circle cx="1117" cy="418" r="4"/><circle cx="1110" cy="386" r="4"/><circle cx="1094" cy="453" r="4"/><circle cx="1111" cy="462" r="4"/><circle cx="1107" cy="405" r="4"/><circle cx="1131" cy="398" r="4"/><circle cx="1119" cy="463" r="4"/><circle cx="1165" cy="451" r="4"/><circle cx="1142" cy="460" r="4"/><circle cx="1170" cy="429" r="4"/><circle cx="1150" cy="386" r="4"/></g>
<path d="M1413.8 446.0 C1413.8 437.2 1438.6 436.3 1442.6 421.9 C1446.6 407.5 1431.4 373.1 1437.8 359.5 C1444.2 345.9 1472.3 350.7 1481.1 340.3 C1489.9 329.9 1482.7 308.7 1490.7 297.1 C1498.7 285.5 1514.7 273.8 1529.1 270.6 C1543.5 267.4 1561.1 276.6 1577.1 277.8 C1593.1 279.0 1610.8 280.2 1625.2 277.8 C1639.6 275.4 1652.4 262.6 1663.6 263.4 C1674.8 264.2 1684.4 276.2 1692.4 282.6 C1700.4 289.0 1703.6 300.3 1711.6 301.9 C1719.6 303.5 1735.6 288.2 1740.4 292.2 C1745.2 296.2 1744.4 316.3 1740.4 325.9 C1736.4 335.5 1721.2 341.9 1716.4 349.9 C1711.6 357.9 1706.0 366.7 1711.6 373.9 C1717.2 381.1 1738.0 384.3 1750.0 393.1 C1762.0 401.9 1778.8 414.7 1783.6 426.7 C1788.4 438.7 1777.3 454.8 1778.9 465.2 C1780.5 475.6 1793.3 479.6 1793.3 489.2 C1793.3 498.8 1789.3 514.8 1778.9 522.8 C1768.5 530.8 1746.0 535.6 1730.8 537.2 C1715.6 538.8 1698.8 528.4 1687.6 532.4 C1676.4 536.4 1674.0 553.2 1663.6 561.2 C1653.2 569.2 1639.6 575.6 1625.2 580.4 C1610.8 585.2 1590.7 591.6 1577.1 590.0 C1563.5 588.4 1554.7 578.8 1543.5 570.8 C1532.3 562.8 1517.1 553.2 1509.9 542.0 C1502.7 530.8 1505.1 513.2 1500.3 503.6 C1495.5 494.0 1490.7 489.2 1481.1 484.4 C1471.5 479.6 1453.8 481.2 1442.6 474.8 C1431.4 468.4 1413.8 454.8 1413.8 446.0 Z" fill="#f8f8fb" stroke="#d4d4de" stroke-width="4"/>
<g fill="none" stroke="#dadae4" stroke-width="5"><path d="M1500 500 C1540 490 1580 485 1620 490"/><path d="M1640 500 C1690 520 1730 530 1760 520"/><path d="M1540 570 C1580 560 1620 550 1660 555"/><path d="M1480 345 C1500 380 1520 400 1540 420"/></g>
<g stroke="#e8e8d0" stroke-width="4.5"><line x1="1606" y1="446" x2="1644" y2="344"/><line x1="1578" y1="446" x2="1632" y2="322"/><line x1="1595" y1="446" x2="1670" y2="302"/><line x1="1606" y1="446" x2="1591" y2="324"/><line x1="1602" y1="446" x2="1677" y2="319"/><line x1="1592" y1="446" x2="1586" y2="357"/><line x1="1584" y1="446" x2="1568" y2="306"/><line x1="1585" y1="446" x2="1667" y2="350"/><line x1="1594" y1="446" x2="1667" y2="415"/><line x1="1580" y1="446" x2="1564" y2="310"/><line x1="1586" y1="446" x2="1591" y2="297"/><line x1="1611" y1="446" x2="1580" y2="359"/><line x1="1593" y1="446" x2="1646" y2="339"/><line x1="1590" y1="446" x2="1616" y2="334"/><line x1="1615" y1="446" x2="1553" y2="321"/><line x1="1601" y1="446" x2="1562" y2="350"/><line x1="1587" y1="446" x2="1661" y2="313"/><line x1="1594" y1="446" x2="1579" y2="337"/><line x1="1611" y1="446" x2="1674" y2="395"/><line x1="1604" y1="446" x2="1548" y2="289"/><line x1="1599" y1="446" x2="1666" y2="347"/><line x1="1613" y1="446" x2="1545" y2="336"/><line x1="1615" y1="446" x2="1656" y2="396"/><line x1="1582" y1="446" x2="1579" y2="299"/><line x1="1614" y1="446" x2="1616" y2="374"/><line x1="1607" y1="446" x2="1642" y2="369"/><line x1="1578" y1="446" x2="1607" y2="357"/><line x1="1613" y1="446" x2="1651" y2="315"/><line x1="1581" y1="446" x2="1632" y2="324"/><line x1="1604" y1="446" x2="1579" y2="368"/><line x1="1597" y1="446" x2="1560" y2="294"/><line x1="1585" y1="446" x2="1624" y2="335"/><line x1="1588" y1="446" x2="1626" y2="286"/><line x1="1602" y1="446" x2="1607" y2="410"/></g>
<g fill="#d8bc30"><circle cx="1644" cy="344" r="6"/><circle cx="1632" cy="322" r="6"/><circle cx="1670" cy="302" r="6"/><circle cx="1591" cy="324" r="6"/><circle cx="1677" cy="319" r="6"/><circle cx="1586" cy="357" r="6"/><circle cx="1568" cy="306" r="6"/><circle cx="1667" cy="350" r="6"/><circle cx="1667" cy="415" r="6"/><circle cx="1564" cy="310" r="6"/><circle cx="1591" cy="297" r="6"/><circle cx="1580" cy="359" r="6"/><circle cx="1646" cy="339" r="6"/><circle cx="1616" cy="334" r="6"/><circle cx="1553" cy="321" r="6"/><circle cx="1562" cy="350" r="6"/><circle cx="1661" cy="313" r="6"/><circle cx="1579" cy="337" r="6"/><circle cx="1674" cy="395" r="6"/><circle cx="1548" cy="289" r="6"/><circle cx="1666" cy="347" r="6"/><circle cx="1545" cy="336" r="6"/><circle cx="1656" cy="396" r="6"/><circle cx="1579" cy="299" r="6"/><circle cx="1616" cy="374" r="6"/><circle cx="1642" cy="369" r="6"/><circle cx="1607" cy="357" r="6"/><circle cx="1651" cy="315" r="6"/><circle cx="1632" cy="324" r="6"/><circle cx="1579" cy="368" r="6"/><circle cx="1560" cy="294" r="6"/><circle cx="1624" cy="335" r="6"/><circle cx="1626" cy="286" r="6"/><circle cx="1607" cy="410" r="6"/></g>
<ellipse cx="1596" cy="446" rx="38" ry="10" fill="#ccd070" opacity="0.8"/>
<line x1="190" y1="505" x2="298" y2="455" stroke="#e4e4e4" stroke-width="14" stroke-linecap="round"/>
</g>
<g transform="translate(1600 360) scale(0.19048)">
<path d="M470 500 C462 470 470 452 488 450 C505 455 512 470 522 482 L515 502 Z" fill="#a8825a"/>
<circle cx="550" cy="742" r="254" fill="url(#gFruit)"/>
<path d="M598 760 C604 850 602 930 598 995" fill="none" stroke="#b8cca0" stroke-width="6" opacity="0.5"/>
<path d="M350 625 C398 548 470 514 530 510" fill="none" stroke="#c8d4b8" stroke-width="16" opacity="0.45" stroke-linecap="round"/>
<ellipse cx="1122" cy="735" rx="292" ry="268" fill="url(#gFlesh)"/>
<ellipse cx="1120" cy="905" rx="120" ry="55" fill="#d4e4b8" opacity="0.4"/>
<path d="M1070 490 C1090 505 1120 488 1150 470 C1145 520 1100 535 1070 490 Z" fill="#a88448"/>
<ellipse cx="1130" cy="705" rx="168" ry="162" fill="url(#gSeed)"/>
<g fill="#7a4a28" opacity="0.35"><circle cx="1222" cy="704" r="5"/><circle cx="1069" cy="816" r="7"/><circle cx="1084" cy="600" r="6"/><circle cx="1172" cy="692" r="5"/><circle cx="1170" cy="808" r="5"/><circle cx="1018" cy="673" r="6"/><circle cx="1174" cy="641" r="7"/><circle cx="1187" cy="711" r="5"/><circle cx="1243" cy="667" r="7"/><circle cx="1065" cy="646" r="7"/><circle cx="1081" cy="814" r="6"/><circle cx="1055" cy="646" r="6"/><circle cx="1170" cy="813" r="5"/><circle cx="1104" cy="644" r="8"/><circle cx="1044" cy="607" r="4"/><circle cx="1104" cy="802" r="8"/><circle cx="1186" cy="824" r="8"/><circle cx="1089" cy="638" r="8"/><circle cx="1189" cy="602" r="7"/><circle cx="1101" cy="681" r="5"/><circle cx="1051" cy="596" r="5"/><circle cx="1094" cy="815" r="4"/><circle cx="1241" cy="643" r="5"/><circle cx="1207" cy="784" r="6"/><circle cx="1022" cy="704" r="5"/><circle cx="1231" cy="639" r="5"/><circle cx="1225" cy="602" r="6"/><circle cx="1205" cy="771" r="4"/><circle cx="1018" cy="609" r="8"/><circle cx="1072" cy="767" r="8"/><circle cx="1091" cy="658" r="8"/><circle cx="1158" cy="655" r="7"/><circle cx="1086" cy="658" r="4"/><circle cx="1191" cy="806" r="7"/><circle cx="1236" cy="601" r="5"/><circle cx="1124" cy="815" r="8"/><circle cx="1103" cy="653" r="6"/><circle cx="1128" cy="808" r="5"/><circle cx="1203" cy="765" r="7"/><circle cx="1195" cy="735" r="5"/><circle cx="1087" cy="678" r="7"/><circle cx="1029" cy="640" r="7"/><circle cx="1069" cy="610" r="4"/><circle cx="1143" cy="670" r="8"/><circle cx="1222" cy="822" r="5"/><circle cx="1030" cy="617" r="6"/><circle cx="1180" cy="698" r="5"/><circle cx="1110" cy="738" r="7"/><circle cx="1190" cy="790" r="7"/><circle cx="1039" cy="788" r="5"/><circle cx="1146" cy="681" r="7"/><circle cx="1058" cy="652" r="5"/><circle cx="1047" cy="798" r="6"/><circle cx="1088" cy="686" r="8"/><circle cx="1132" cy="648" r="7"/><circle cx="1167" cy="823" r="4"/><circle cx="1124" cy="783" r="7"/><circle cx="1229" cy="604" r="5"/><circle cx="1039" cy="639" r="8"/><circle cx="1150" cy="809" r="5"/><circle cx="1218" cy="698" r="5"/><circle cx="1197" cy="813" r="4"/><circle cx="1153" cy="738" r="5"/><circle cx="1098" cy="628" r="5"/><circle cx="1071" cy="733" r="7"/><circle cx="1059" cy="598" r="5"/><circle cx="1173" cy="638" r="5"/><circle cx="1059" cy="778" r="6"/><circle cx="1025" cy="618" r="6"/><circle cx="1142" cy="742" r="4"/></g>
</g>
<line x1="1864.8" y1="422.9" x2="1837.1" y2="461" stroke="#f4f4f4" stroke-width="4.5" stroke-linecap="round"/>
<line x1="1823.8" y1="497.1" x2="1881.9" y2="494.9" stroke="#f4f4f4" stroke-width="4.5" stroke-linecap="round"/>
<line x1="1759.3" y1="183" x2="1699.5" y2="211.7" stroke="#000" stroke-width="3"/>
<line x1="1651.9" y1="317" x2="1637.5" y2="342.5" stroke="#dcdcdc" stroke-width="3"/>
<g font-family="'Liberation Sans', Arial, Helvetica, sans-serif" font-weight="bold" font-size="46" fill="#dedede"><text x="1409.5" y="122">Le</text><text x="1301" y="286">St</text><text x="1057.5" y="459.8">F1</text><text x="1157" y="459.8">F2</text><text x="1295" y="459.8">F3</text><text x="1432" y="459.8">F4</text><text x="988" y="585.8">Ca</text><text x="1601" y="375">Pe</text><text x="1883.5" y="241">Fl</text><text x="1869" y="411">Fr</text><text x="1896.5" y="513">Se</text></g>
<g font-family="'Liberation Sans', Arial, Helvetica, sans-serif" font-size="44.5" fill="#000"><text x="1581.5" y="189.5">Sta</text><text x="1764" y="187">Sty</text></g></svg></body></html>
